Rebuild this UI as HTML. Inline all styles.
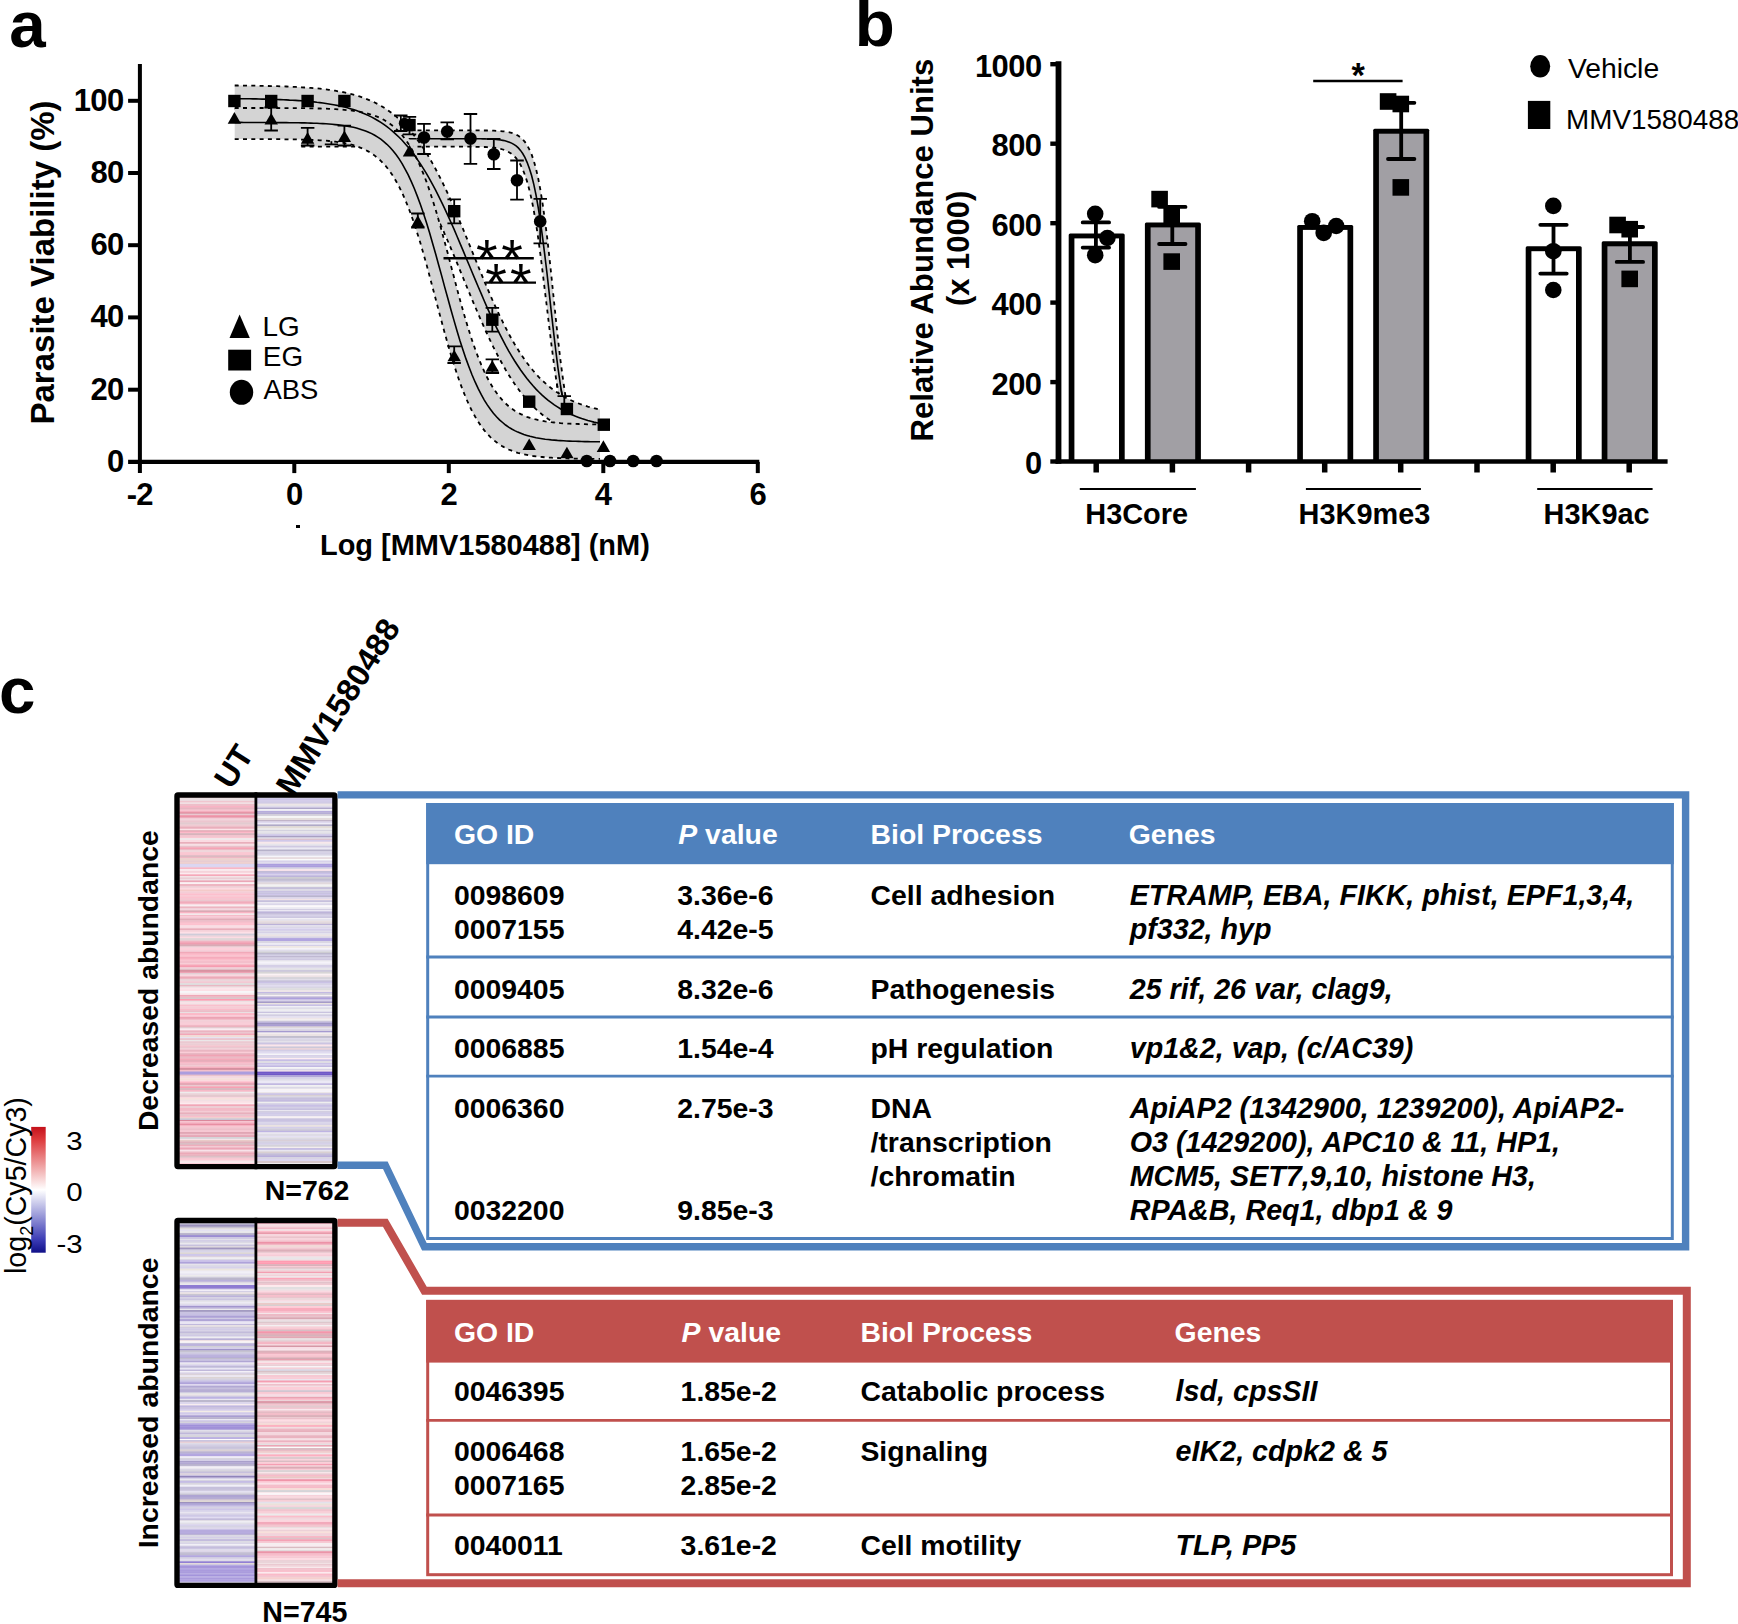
<!DOCTYPE html>
<html lang="en">
<head>
<meta charset="utf-8">
<title>MMV1580488 figure</title>
<style>
html,body{margin:0;padding:0;background:#fff;}
body{width:1738px;height:1624px;overflow:hidden;}
svg{display:block;font-family:"Liberation Sans",sans-serif;}
svg text{white-space:pre;}
</style>
</head>
<body>
<svg width="1738" height="1624" viewBox="0 0 1738 1624">
<rect x="0" y="0" width="1738" height="1624" fill="#fff"/>
<g id="panel-a">
<text x="9.3" y="46.8" font-size="65.5" font-weight="bold">a</text>
<defs><clipPath id="abc"><rect x="0" y="0" width="800" height="398.6"/></clipPath></defs>
<path d="M301.3 130.4 L303.5 130.4 L305.7 130.4 L307.9 130.4 L310.1 130.4 L312.3 130.4 L314.5 130.4 L316.8 130.4 L319 130.4 L321.2 130.4 L323.4 130.4 L325.6 130.4 L327.8 130.4 L330 130.4 L332.3 130.4 L334.5 130.4 L336.7 130.4 L338.9 130.4 L341.1 130.4 L343.3 130.4 L345.5 130.4 L347.8 130.4 L350 130.4 L352.2 130.4 L354.4 130.4 L356.6 130.4 L358.8 130.4 L361 130.4 L363.3 130.4 L365.5 130.4 L367.7 130.4 L369.9 130.4 L372.1 130.4 L374.3 130.4 L376.5 130.4 L378.8 130.4 L381 130.4 L383.2 130.4 L385.4 130.4 L387.6 130.4 L389.8 130.4 L392 130.4 L394.3 130.4 L396.5 130.4 L398.7 130.4 L400.9 130.4 L403.1 130.4 L405.3 130.4 L407.5 130.4 L409.8 130.4 L412 130.4 L414.2 130.4 L416.4 130.4 L418.6 130.4 L420.8 130.4 L423.1 130.4 L425.3 130.4 L427.5 130.4 L429.7 130.4 L431.9 130.4 L434.1 130.4 L436.3 130.4 L438.6 130.4 L440.8 130.4 L443 130.4 L445.2 130.4 L447.4 130.4 L449.6 130.4 L451.8 130.4 L454.1 130.4 L456.3 130.4 L458.5 130.4 L460.7 130.4 L462.9 130.4 L465.1 130.4 L467.3 130.4 L469.6 130.4 L471.8 130.4 L474 130.4 L476.2 130.4 L478.4 130.4 L480.6 130.4 L482.8 130.5 L485.1 130.5 L487.3 130.5 L489.5 130.6 L491.7 130.6 L493.9 130.7 L496.1 130.8 L498.3 130.9 L500.6 131.1 L502.8 131.3 L505 131.5 L507.2 131.9 L509.4 132.3 L511.6 132.9 L513.8 133.6 L516.1 134.6 L518.3 135.8 L520.5 137.4 L522.7 139.4 L524.9 141.9 L527.1 145.2 L529.3 149.3 L531.6 154.4 L533.8 160.9 L536 168.8 L538.2 178.4 L540.4 190 L542.6 203.6 L544.8 219.3 L547.1 237.1 L549.3 256.5 L551.5 277.1 L553.7 298.4 L555.9 319.5 L558.1 340 L560.3 359.1 L562.6 376.4 L564.8 391.7 L567 404.9 L567 430.4 L564.8 422.9 L562.6 414.1 L560.3 403.6 L558.1 391.5 L555.9 377.6 L553.7 362.2 L551.5 345.3 L549.3 327.4 L547.1 308.8 L544.8 290.1 L542.6 271.8 L540.4 254.4 L538.2 238.2 L536 223.6 L533.8 210.6 L531.6 199.3 L529.3 189.7 L527.1 181.6 L524.9 174.9 L522.7 169.3 L520.5 164.8 L518.3 161.1 L516.1 158.2 L513.8 155.8 L511.6 153.9 L509.4 152.4 L507.2 151.2 L505 150.2 L502.8 149.5 L500.6 148.9 L498.3 148.4 L496.1 148 L493.9 147.7 L491.7 147.5 L489.5 147.3 L487.3 147.2 L485.1 147 L482.8 147 L480.6 146.9 L478.4 146.8 L476.2 146.8 L474 146.7 L471.8 146.7 L469.6 146.7 L467.3 146.7 L465.1 146.7 L462.9 146.7 L460.7 146.6 L458.5 146.6 L456.3 146.6 L454.1 146.6 L451.8 146.6 L449.6 146.6 L447.4 146.6 L445.2 146.6 L443 146.6 L440.8 146.6 L438.6 146.6 L436.3 146.6 L434.1 146.6 L431.9 146.6 L429.7 146.6 L427.5 146.6 L425.3 146.6 L423.1 146.6 L420.8 146.6 L418.6 146.6 L416.4 146.6 L414.2 146.6 L412 146.6 L409.8 146.6 L407.5 146.6 L405.3 146.6 L403.1 146.6 L400.9 146.6 L398.7 146.6 L396.5 146.6 L394.3 146.6 L392 146.6 L389.8 146.6 L387.6 146.6 L385.4 146.6 L383.2 146.6 L381 146.6 L378.8 146.6 L376.5 146.6 L374.3 146.6 L372.1 146.6 L369.9 146.6 L367.7 146.6 L365.5 146.6 L363.3 146.6 L361 146.6 L358.8 146.6 L356.6 146.6 L354.4 146.6 L352.2 146.6 L350 146.6 L347.8 146.6 L345.5 146.6 L343.3 146.6 L341.1 146.6 L338.9 146.6 L336.7 146.6 L334.5 146.6 L332.3 146.6 L330 146.6 L327.8 146.6 L325.6 146.6 L323.4 146.6 L321.2 146.6 L319 146.6 L316.8 146.6 L314.5 146.6 L312.3 146.6 L310.1 146.6 L307.9 146.6 L305.7 146.6 L303.5 146.6 L301.3 146.6 Z" fill="#d4d4d4" clip-path="url(#abc)"/>
<path d="M301.3 130.4 L303.5 130.4 L305.7 130.4 L307.9 130.4 L310.1 130.4 L312.3 130.4 L314.5 130.4 L316.8 130.4 L319 130.4 L321.2 130.4 L323.4 130.4 L325.6 130.4 L327.8 130.4 L330 130.4 L332.3 130.4 L334.5 130.4 L336.7 130.4 L338.9 130.4 L341.1 130.4 L343.3 130.4 L345.5 130.4 L347.8 130.4 L350 130.4 L352.2 130.4 L354.4 130.4 L356.6 130.4 L358.8 130.4 L361 130.4 L363.3 130.4 L365.5 130.4 L367.7 130.4 L369.9 130.4 L372.1 130.4 L374.3 130.4 L376.5 130.4 L378.8 130.4 L381 130.4 L383.2 130.4 L385.4 130.4 L387.6 130.4 L389.8 130.4 L392 130.4 L394.3 130.4 L396.5 130.4 L398.7 130.4 L400.9 130.4 L403.1 130.4 L405.3 130.4 L407.5 130.4 L409.8 130.4 L412 130.4 L414.2 130.4 L416.4 130.4 L418.6 130.4 L420.8 130.4 L423.1 130.4 L425.3 130.4 L427.5 130.4 L429.7 130.4 L431.9 130.4 L434.1 130.4 L436.3 130.4 L438.6 130.4 L440.8 130.4 L443 130.4 L445.2 130.4 L447.4 130.4 L449.6 130.4 L451.8 130.4 L454.1 130.4 L456.3 130.4 L458.5 130.4 L460.7 130.4 L462.9 130.4 L465.1 130.4 L467.3 130.4 L469.6 130.4 L471.8 130.4 L474 130.4 L476.2 130.4 L478.4 130.4 L480.6 130.4 L482.8 130.5 L485.1 130.5 L487.3 130.5 L489.5 130.6 L491.7 130.6 L493.9 130.7 L496.1 130.8 L498.3 130.9 L500.6 131.1 L502.8 131.3 L505 131.5 L507.2 131.9 L509.4 132.3 L511.6 132.9 L513.8 133.6 L516.1 134.6 L518.3 135.8 L520.5 137.4 L522.7 139.4 L524.9 141.9 L527.1 145.2 L529.3 149.3 L531.6 154.4 L533.8 160.9 L536 168.8 L538.2 178.4 L540.4 190 L542.6 203.6 L544.8 219.3 L547.1 237.1 L549.3 256.5 L551.5 277.1 L553.7 298.4 L555.9 319.5 L558.1 340 L560.3 359.1 L562.6 376.4 L564.8 391.7 L567 404.9" fill="none" stroke="#000" stroke-width="1.8" stroke-dasharray="4 4.3" clip-path="url(#abc)"/>
<path d="M301.3 146.6 L303.5 146.6 L305.7 146.6 L307.9 146.6 L310.1 146.6 L312.3 146.6 L314.5 146.6 L316.8 146.6 L319 146.6 L321.2 146.6 L323.4 146.6 L325.6 146.6 L327.8 146.6 L330 146.6 L332.3 146.6 L334.5 146.6 L336.7 146.6 L338.9 146.6 L341.1 146.6 L343.3 146.6 L345.5 146.6 L347.8 146.6 L350 146.6 L352.2 146.6 L354.4 146.6 L356.6 146.6 L358.8 146.6 L361 146.6 L363.3 146.6 L365.5 146.6 L367.7 146.6 L369.9 146.6 L372.1 146.6 L374.3 146.6 L376.5 146.6 L378.8 146.6 L381 146.6 L383.2 146.6 L385.4 146.6 L387.6 146.6 L389.8 146.6 L392 146.6 L394.3 146.6 L396.5 146.6 L398.7 146.6 L400.9 146.6 L403.1 146.6 L405.3 146.6 L407.5 146.6 L409.8 146.6 L412 146.6 L414.2 146.6 L416.4 146.6 L418.6 146.6 L420.8 146.6 L423.1 146.6 L425.3 146.6 L427.5 146.6 L429.7 146.6 L431.9 146.6 L434.1 146.6 L436.3 146.6 L438.6 146.6 L440.8 146.6 L443 146.6 L445.2 146.6 L447.4 146.6 L449.6 146.6 L451.8 146.6 L454.1 146.6 L456.3 146.6 L458.5 146.6 L460.7 146.6 L462.9 146.7 L465.1 146.7 L467.3 146.7 L469.6 146.7 L471.8 146.7 L474 146.7 L476.2 146.8 L478.4 146.8 L480.6 146.9 L482.8 147 L485.1 147 L487.3 147.2 L489.5 147.3 L491.7 147.5 L493.9 147.7 L496.1 148 L498.3 148.4 L500.6 148.9 L502.8 149.5 L505 150.2 L507.2 151.2 L509.4 152.4 L511.6 153.9 L513.8 155.8 L516.1 158.2 L518.3 161.1 L520.5 164.8 L522.7 169.3 L524.9 174.9 L527.1 181.6 L529.3 189.7 L531.6 199.3 L533.8 210.6 L536 223.6 L538.2 238.2 L540.4 254.4 L542.6 271.8 L544.8 290.1 L547.1 308.8 L549.3 327.4 L551.5 345.3 L553.7 362.2 L555.9 377.6 L558.1 391.5 L560.3 403.6 L562.6 414.1 L564.8 422.9 L567 430.4" fill="none" stroke="#000" stroke-width="1.8" stroke-dasharray="4 4.3" clip-path="url(#abc)"/>
<path d="M301.3 138.7 L303.5 138.7 L305.7 138.7 L307.9 138.7 L310.1 138.7 L312.3 138.7 L314.5 138.7 L316.8 138.7 L319 138.7 L321.2 138.7 L323.4 138.7 L325.6 138.7 L327.8 138.7 L330 138.7 L332.3 138.7 L334.5 138.7 L336.7 138.7 L338.9 138.7 L341.1 138.7 L343.3 138.7 L345.5 138.7 L347.8 138.7 L350 138.7 L352.2 138.7 L354.4 138.7 L356.6 138.7 L358.8 138.7 L361 138.7 L363.3 138.7 L365.5 138.7 L367.7 138.7 L369.9 138.7 L372.1 138.7 L374.3 138.7 L376.5 138.7 L378.8 138.7 L381 138.7 L383.2 138.7 L385.4 138.7 L387.6 138.7 L389.8 138.7 L392 138.7 L394.3 138.7 L396.5 138.7 L398.7 138.7 L400.9 138.7 L403.1 138.7 L405.3 138.7 L407.5 138.7 L409.8 138.7 L412 138.7 L414.2 138.7 L416.4 138.7 L418.6 138.7 L420.8 138.7 L423.1 138.7 L425.3 138.7 L427.5 138.7 L429.7 138.7 L431.9 138.7 L434.1 138.7 L436.3 138.7 L438.6 138.7 L440.8 138.7 L443 138.7 L445.2 138.7 L447.4 138.7 L449.6 138.7 L451.8 138.7 L454.1 138.7 L456.3 138.7 L458.5 138.7 L460.7 138.7 L462.9 138.7 L465.1 138.7 L467.3 138.7 L469.6 138.7 L471.8 138.7 L474 138.7 L476.2 138.8 L478.4 138.8 L480.6 138.8 L482.8 138.9 L485.1 138.9 L487.3 139 L489.5 139.1 L491.7 139.2 L493.9 139.3 L496.1 139.5 L498.3 139.7 L500.6 140 L502.8 140.4 L505 140.8 L507.2 141.4 L509.4 142.2 L511.6 143.1 L513.8 144.4 L516.1 145.9 L518.3 147.9 L520.5 150.4 L522.7 153.5 L524.9 157.4 L527.1 162.3 L529.3 168.2 L531.6 175.5 L533.8 184.4 L536 194.9 L538.2 207.3 L540.4 221.5 L542.6 237.6 L544.8 255.2 L547.1 274.1 L549.3 293.8 L551.5 313.7 L553.7 333.1 L555.9 351.7 L558.1 368.8 L560.3 384.2 L562.6 397.8 L564.8 409.5 L567 419.5" fill="none" stroke="#000" stroke-width="1.6" clip-path="url(#abc)"/>
<path d="M331.4 136 V144.3 M324.8 144.3 H338" stroke="#000" stroke-width="1.8" fill="none"/>
<path d="M234.7 85.5 L237.7 85.5 L240.8 85.6 L243.8 85.6 L246.8 85.6 L249.9 85.7 L252.9 85.7 L256 85.7 L259 85.8 L262.1 85.9 L265.1 85.9 L268.2 86 L271.2 86.1 L274.2 86.1 L277.3 86.2 L280.3 86.3 L283.4 86.4 L286.4 86.5 L289.5 86.7 L292.5 86.8 L295.5 86.9 L298.6 87.1 L301.6 87.3 L304.7 87.5 L307.7 87.7 L310.8 87.9 L313.8 88.2 L316.9 88.4 L319.9 88.7 L322.9 89.1 L326 89.4 L329 89.8 L332.1 90.3 L335.1 90.7 L338.2 91.3 L341.2 91.8 L344.3 92.4 L347.3 93.1 L350.3 93.8 L353.4 94.6 L356.4 95.5 L359.5 96.4 L362.5 97.4 L365.6 98.6 L368.6 99.8 L371.7 101.1 L374.7 102.5 L377.7 104.1 L380.8 105.7 L383.8 107.6 L386.9 109.5 L389.9 111.7 L393 114 L396 116.4 L399.1 119.1 L402.1 121.9 L405.1 125 L408.2 128.3 L411.2 131.8 L414.3 135.6 L417.3 139.6 L420.4 143.8 L423.4 148.3 L426.5 153.1 L429.5 158.1 L432.5 163.4 L435.6 169 L438.6 174.8 L441.7 180.8 L444.7 187.1 L447.8 193.6 L450.8 200.4 L453.9 207.3 L456.9 214.4 L459.9 221.6 L463 228.9 L466 236.3 L469.1 243.8 L472.1 251.3 L475.2 258.9 L478.2 266.3 L481.3 273.8 L484.3 281.1 L487.3 288.3 L490.4 295.4 L493.4 302.3 L496.5 309 L499.5 315.5 L502.6 321.7 L505.6 327.7 L508.6 333.5 L511.7 339.1 L514.7 344.3 L517.8 349.3 L520.8 354.1 L523.9 358.6 L526.9 362.8 L530 366.8 L533 370.5 L536 374 L539.1 377.3 L542.1 380.3 L545.2 383.1 L548.2 385.8 L551.3 388.2 L554.3 390.5 L557.4 392.6 L560.4 394.6 L563.4 396.4 L566.5 398.1 L569.5 399.6 L572.6 401 L575.6 402.3 L578.7 403.5 L581.7 404.6 L584.8 405.6 L587.8 406.6 L590.8 407.4 L593.9 408.2 L596.9 408.9 L600 409.6 L600 439 L596.9 438.5 L593.9 437.9 L590.8 437.2 L587.8 436.5 L584.8 435.7 L581.7 434.8 L578.7 433.9 L575.6 432.9 L572.6 431.8 L569.5 430.6 L566.5 429.3 L563.4 427.9 L560.4 426.4 L557.4 424.8 L554.3 423 L551.3 421.1 L548.2 419.1 L545.2 416.9 L542.1 414.5 L539.1 411.9 L536 409.2 L533 406.3 L530 403.1 L526.9 399.8 L523.9 396.2 L520.8 392.4 L517.8 388.3 L514.7 384 L511.7 379.5 L508.6 374.7 L505.6 369.7 L502.6 364.4 L499.5 358.9 L496.5 353.1 L493.4 347.1 L490.4 340.8 L487.3 334.4 L484.3 327.8 L481.3 320.9 L478.2 313.9 L475.2 306.8 L472.1 299.6 L469.1 292.3 L466 284.9 L463 277.5 L459.9 270.1 L456.9 262.7 L453.9 255.4 L450.8 248.1 L447.8 241 L444.7 234 L441.7 227.1 L438.6 220.4 L435.6 213.9 L432.5 207.7 L429.5 201.6 L426.5 195.8 L423.4 190.2 L420.4 184.9 L417.3 179.8 L414.3 175 L411.2 170.4 L408.2 166.1 L405.1 162 L402.1 158.1 L399.1 154.5 L396 151.1 L393 147.9 L389.9 145 L386.9 142.2 L383.8 139.6 L380.8 137.2 L377.7 134.9 L374.7 132.9 L371.7 130.9 L368.6 129.1 L365.6 127.5 L362.5 126 L359.5 124.6 L356.4 123.2 L353.4 122 L350.3 120.9 L347.3 119.9 L344.3 119 L341.2 118.1 L338.2 117.3 L335.1 116.6 L332.1 115.9 L329 115.3 L326 114.7 L322.9 114.2 L319.9 113.7 L316.9 113.2 L313.8 112.8 L310.8 112.4 L307.7 112.1 L304.7 111.8 L301.6 111.5 L298.6 111.2 L295.5 111 L292.5 110.8 L289.5 110.6 L286.4 110.4 L283.4 110.2 L280.3 110.1 L277.3 109.9 L274.2 109.8 L271.2 109.7 L268.2 109.5 L265.1 109.4 L262.1 109.4 L259 109.3 L256 109.2 L252.9 109.1 L249.9 109 L246.8 109 L243.8 108.9 L240.8 108.9 L237.7 108.8 L234.7 108.8 Z" fill="#d4d4d4"/>
<path d="M234.7 85.5 L237.7 85.5 L240.8 85.6 L243.8 85.6 L246.8 85.6 L249.9 85.7 L252.9 85.7 L256 85.7 L259 85.8 L262.1 85.9 L265.1 85.9 L268.2 86 L271.2 86.1 L274.2 86.1 L277.3 86.2 L280.3 86.3 L283.4 86.4 L286.4 86.5 L289.5 86.7 L292.5 86.8 L295.5 86.9 L298.6 87.1 L301.6 87.3 L304.7 87.5 L307.7 87.7 L310.8 87.9 L313.8 88.2 L316.9 88.4 L319.9 88.7 L322.9 89.1 L326 89.4 L329 89.8 L332.1 90.3 L335.1 90.7 L338.2 91.3 L341.2 91.8 L344.3 92.4 L347.3 93.1 L350.3 93.8 L353.4 94.6 L356.4 95.5 L359.5 96.4 L362.5 97.4 L365.6 98.6 L368.6 99.8 L371.7 101.1 L374.7 102.5 L377.7 104.1 L380.8 105.7 L383.8 107.6 L386.9 109.5 L389.9 111.7 L393 114 L396 116.4 L399.1 119.1 L402.1 121.9 L405.1 125 L408.2 128.3 L411.2 131.8 L414.3 135.6 L417.3 139.6 L420.4 143.8 L423.4 148.3 L426.5 153.1 L429.5 158.1 L432.5 163.4 L435.6 169 L438.6 174.8 L441.7 180.8 L444.7 187.1 L447.8 193.6 L450.8 200.4 L453.9 207.3 L456.9 214.4 L459.9 221.6 L463 228.9 L466 236.3 L469.1 243.8 L472.1 251.3 L475.2 258.9 L478.2 266.3 L481.3 273.8 L484.3 281.1 L487.3 288.3 L490.4 295.4 L493.4 302.3 L496.5 309 L499.5 315.5 L502.6 321.7 L505.6 327.7 L508.6 333.5 L511.7 339.1 L514.7 344.3 L517.8 349.3 L520.8 354.1 L523.9 358.6 L526.9 362.8 L530 366.8 L533 370.5 L536 374 L539.1 377.3 L542.1 380.3 L545.2 383.1 L548.2 385.8 L551.3 388.2 L554.3 390.5 L557.4 392.6 L560.4 394.6 L563.4 396.4 L566.5 398.1 L569.5 399.6 L572.6 401 L575.6 402.3 L578.7 403.5 L581.7 404.6 L584.8 405.6 L587.8 406.6 L590.8 407.4 L593.9 408.2 L596.9 408.9 L600 409.6" fill="none" stroke="#000" stroke-width="1.8" stroke-dasharray="4 4.3"/>
<path d="M234.7 108.8 L237.7 108.8 L240.8 108.9 L243.8 108.9 L246.8 109 L249.9 109 L252.9 109.1 L256 109.2 L259 109.3 L262.1 109.4 L265.1 109.4 L268.2 109.5 L271.2 109.7 L274.2 109.8 L277.3 109.9 L280.3 110.1 L283.4 110.2 L286.4 110.4 L289.5 110.6 L292.5 110.8 L295.5 111 L298.6 111.2 L301.6 111.5 L304.7 111.8 L307.7 112.1 L310.8 112.4 L313.8 112.8 L316.9 113.2 L319.9 113.7 L322.9 114.2 L326 114.7 L329 115.3 L332.1 115.9 L335.1 116.6 L338.2 117.3 L341.2 118.1 L344.3 119 L347.3 119.9 L350.3 120.9 L353.4 122 L356.4 123.2 L359.5 124.6 L362.5 126 L365.6 127.5 L368.6 129.1 L371.7 130.9 L374.7 132.9 L377.7 134.9 L380.8 137.2 L383.8 139.6 L386.9 142.2 L389.9 145 L393 147.9 L396 151.1 L399.1 154.5 L402.1 158.1 L405.1 162 L408.2 166.1 L411.2 170.4 L414.3 175 L417.3 179.8 L420.4 184.9 L423.4 190.2 L426.5 195.8 L429.5 201.6 L432.5 207.7 L435.6 213.9 L438.6 220.4 L441.7 227.1 L444.7 234 L447.8 241 L450.8 248.1 L453.9 255.4 L456.9 262.7 L459.9 270.1 L463 277.5 L466 284.9 L469.1 292.3 L472.1 299.6 L475.2 306.8 L478.2 313.9 L481.3 320.9 L484.3 327.8 L487.3 334.4 L490.4 340.8 L493.4 347.1 L496.5 353.1 L499.5 358.9 L502.6 364.4 L505.6 369.7 L508.6 374.7 L511.7 379.5 L514.7 384 L517.8 388.3 L520.8 392.4 L523.9 396.2 L526.9 399.8 L530 403.1 L533 406.3 L536 409.2 L539.1 411.9 L542.1 414.5 L545.2 416.9 L548.2 419.1 L551.3 421.1 L554.3 423 L557.4 424.8 L560.4 426.4 L563.4 427.9 L566.5 429.3 L569.5 430.6 L572.6 431.8 L575.6 432.9 L578.7 433.9 L581.7 434.8 L584.8 435.7 L587.8 436.5 L590.8 437.2 L593.9 437.9 L596.9 438.5 L600 439" fill="none" stroke="#000" stroke-width="1.8" stroke-dasharray="4 4.3"/>
<path d="M234.7 108 L237.7 108 L240.8 108 L243.8 108 L246.8 108 L249.9 108 L252.9 108 L256 108 L259 108 L262.1 108 L265.1 108 L268.2 108 L271.2 108 L274.2 108 L277.3 108 L280.3 108.1 L283.4 108.1 L286.4 108.1 L289.5 108.1 L292.5 108.1 L295.5 108.1 L298.6 108.2 L301.6 108.2 L304.7 108.2 L307.7 108.3 L310.8 108.3 L313.8 108.4 L316.9 108.5 L319.9 108.5 L322.9 108.6 L326 108.7 L329 108.8 L332.1 109 L335.1 109.1 L338.2 109.3 L341.2 109.5 L344.3 109.8 L347.3 110.1 L350.3 110.4 L353.4 110.8 L356.4 111.2 L359.5 111.7 L362.5 112.3 L365.6 113 L368.6 113.8 L371.7 114.7 L374.7 115.7 L377.7 116.9 L380.8 118.2 L383.8 119.8 L386.9 121.6 L389.9 123.7 L393 126 L396 128.7 L399.1 131.7 L402.1 135.1 L405.1 139 L408.2 143.4 L411.2 148.3 L414.3 153.7 L417.3 159.8 L420.4 166.5 L423.4 173.8 L426.5 181.8 L429.5 190.4 L432.5 199.7 L435.6 209.6 L438.6 220 L441.7 230.8 L444.7 242.1 L447.8 253.5 L450.8 265.2 L453.9 276.8 L456.9 288.3 L459.9 299.6 L463 310.5 L466 321 L469.1 331 L472.1 340.4 L475.2 349.2 L478.2 357.3 L481.3 364.8 L484.3 371.6 L487.3 377.8 L490.4 383.4 L493.4 388.4 L496.5 392.8 L499.5 396.8 L502.6 400.3 L505.6 403.4 L508.6 406.2 L511.7 408.6 L514.7 410.7 L517.8 412.5 L520.8 414.1 L523.9 415.5 L526.9 416.8 L530 417.8 L533 418.7 L536 419.5 L539.1 420.2 L542.1 420.8 L545.2 421.4 L548.2 421.8 L551.3 422.2 L554.3 422.5 L557.4 422.8 L560.4 423.1 L563.4 423.3 L566.5 423.5 L569.5 423.7 L572.6 423.8 L575.6 423.9 L578.7 424 L581.7 424.1 L584.8 424.2 L587.8 424.3 L590.8 424.3 L593.9 424.4 L596.9 424.4 L600 424.5 L600 458.9 L596.9 458.9 L593.9 458.8 L590.8 458.8 L587.8 458.8 L584.8 458.7 L581.7 458.7 L578.7 458.7 L575.6 458.6 L572.6 458.5 L569.5 458.5 L566.5 458.4 L563.4 458.3 L560.4 458.2 L557.4 458 L554.3 457.9 L551.3 457.7 L548.2 457.5 L545.2 457.3 L542.1 457 L539.1 456.7 L536 456.4 L533 456 L530 455.5 L526.9 454.9 L523.9 454.3 L520.8 453.6 L517.8 452.8 L514.7 451.8 L511.7 450.7 L508.6 449.5 L505.6 448 L502.6 446.4 L499.5 444.5 L496.5 442.3 L493.4 439.9 L490.4 437.1 L487.3 433.9 L484.3 430.4 L481.3 426.3 L478.2 421.8 L475.2 416.8 L472.1 411.2 L469.1 405 L466 398.1 L463 390.6 L459.9 382.5 L456.9 373.7 L453.9 364.4 L450.8 354.4 L447.8 343.9 L444.7 333 L441.7 321.8 L438.6 310.3 L435.6 298.7 L432.5 287.1 L429.5 275.7 L426.5 264.4 L423.4 253.5 L420.4 243.1 L417.3 233.2 L414.3 223.8 L411.2 215.1 L408.2 207 L405.1 199.5 L402.1 192.7 L399.1 186.6 L396 181 L393 176 L389.9 171.5 L386.9 167.5 L383.8 163.9 L380.8 160.8 L377.7 158 L374.7 155.6 L371.7 153.5 L368.6 151.6 L365.6 149.9 L362.5 148.5 L359.5 147.3 L356.4 146.2 L353.4 145.2 L350.3 144.4 L347.3 143.7 L344.3 143.1 L341.2 142.5 L338.2 142.1 L335.1 141.7 L332.1 141.3 L329 141 L326 140.7 L322.9 140.5 L319.9 140.3 L316.9 140.1 L313.8 140 L310.8 139.9 L307.7 139.7 L304.7 139.7 L301.6 139.6 L298.6 139.5 L295.5 139.4 L292.5 139.4 L289.5 139.3 L286.4 139.3 L283.4 139.3 L280.3 139.2 L277.3 139.2 L274.2 139.2 L271.2 139.2 L268.2 139.1 L265.1 139.1 L262.1 139.1 L259 139.1 L256 139.1 L252.9 139.1 L249.9 139.1 L246.8 139.1 L243.8 139.1 L240.8 139.1 L237.7 139.1 L234.7 139.1 Z" fill="#d4d4d4"/>
<path d="M234.7 108 L237.7 108 L240.8 108 L243.8 108 L246.8 108 L249.9 108 L252.9 108 L256 108 L259 108 L262.1 108 L265.1 108 L268.2 108 L271.2 108 L274.2 108 L277.3 108 L280.3 108.1 L283.4 108.1 L286.4 108.1 L289.5 108.1 L292.5 108.1 L295.5 108.1 L298.6 108.2 L301.6 108.2 L304.7 108.2 L307.7 108.3 L310.8 108.3 L313.8 108.4 L316.9 108.5 L319.9 108.5 L322.9 108.6 L326 108.7 L329 108.8 L332.1 109 L335.1 109.1 L338.2 109.3 L341.2 109.5 L344.3 109.8 L347.3 110.1 L350.3 110.4 L353.4 110.8 L356.4 111.2 L359.5 111.7 L362.5 112.3 L365.6 113 L368.6 113.8 L371.7 114.7 L374.7 115.7 L377.7 116.9 L380.8 118.2 L383.8 119.8 L386.9 121.6 L389.9 123.7 L393 126 L396 128.7 L399.1 131.7 L402.1 135.1 L405.1 139 L408.2 143.4 L411.2 148.3 L414.3 153.7 L417.3 159.8 L420.4 166.5 L423.4 173.8 L426.5 181.8 L429.5 190.4 L432.5 199.7 L435.6 209.6 L438.6 220 L441.7 230.8 L444.7 242.1 L447.8 253.5 L450.8 265.2 L453.9 276.8 L456.9 288.3 L459.9 299.6 L463 310.5 L466 321 L469.1 331 L472.1 340.4 L475.2 349.2 L478.2 357.3 L481.3 364.8 L484.3 371.6 L487.3 377.8 L490.4 383.4 L493.4 388.4 L496.5 392.8 L499.5 396.8 L502.6 400.3 L505.6 403.4 L508.6 406.2 L511.7 408.6 L514.7 410.7 L517.8 412.5 L520.8 414.1 L523.9 415.5 L526.9 416.8 L530 417.8 L533 418.7 L536 419.5 L539.1 420.2 L542.1 420.8 L545.2 421.4 L548.2 421.8 L551.3 422.2 L554.3 422.5 L557.4 422.8 L560.4 423.1 L563.4 423.3 L566.5 423.5 L569.5 423.7 L572.6 423.8 L575.6 423.9 L578.7 424 L581.7 424.1 L584.8 424.2 L587.8 424.3 L590.8 424.3 L593.9 424.4 L596.9 424.4 L600 424.5" fill="none" stroke="#000" stroke-width="1.8" stroke-dasharray="4 4.3"/>
<path d="M234.7 139.1 L237.7 139.1 L240.8 139.1 L243.8 139.1 L246.8 139.1 L249.9 139.1 L252.9 139.1 L256 139.1 L259 139.1 L262.1 139.1 L265.1 139.1 L268.2 139.1 L271.2 139.2 L274.2 139.2 L277.3 139.2 L280.3 139.2 L283.4 139.3 L286.4 139.3 L289.5 139.3 L292.5 139.4 L295.5 139.4 L298.6 139.5 L301.6 139.6 L304.7 139.7 L307.7 139.7 L310.8 139.9 L313.8 140 L316.9 140.1 L319.9 140.3 L322.9 140.5 L326 140.7 L329 141 L332.1 141.3 L335.1 141.7 L338.2 142.1 L341.2 142.5 L344.3 143.1 L347.3 143.7 L350.3 144.4 L353.4 145.2 L356.4 146.2 L359.5 147.3 L362.5 148.5 L365.6 149.9 L368.6 151.6 L371.7 153.5 L374.7 155.6 L377.7 158 L380.8 160.8 L383.8 163.9 L386.9 167.5 L389.9 171.5 L393 176 L396 181 L399.1 186.6 L402.1 192.7 L405.1 199.5 L408.2 207 L411.2 215.1 L414.3 223.8 L417.3 233.2 L420.4 243.1 L423.4 253.5 L426.5 264.4 L429.5 275.7 L432.5 287.1 L435.6 298.7 L438.6 310.3 L441.7 321.8 L444.7 333 L447.8 343.9 L450.8 354.4 L453.9 364.4 L456.9 373.7 L459.9 382.5 L463 390.6 L466 398.1 L469.1 405 L472.1 411.2 L475.2 416.8 L478.2 421.8 L481.3 426.3 L484.3 430.4 L487.3 433.9 L490.4 437.1 L493.4 439.9 L496.5 442.3 L499.5 444.5 L502.6 446.4 L505.6 448 L508.6 449.5 L511.7 450.7 L514.7 451.8 L517.8 452.8 L520.8 453.6 L523.9 454.3 L526.9 454.9 L530 455.5 L533 456 L536 456.4 L539.1 456.7 L542.1 457 L545.2 457.3 L548.2 457.5 L551.3 457.7 L554.3 457.9 L557.4 458 L560.4 458.2 L563.4 458.3 L566.5 458.4 L569.5 458.5 L572.6 458.5 L575.6 458.6 L578.7 458.7 L581.7 458.7 L584.8 458.7 L587.8 458.8 L590.8 458.8 L593.9 458.8 L596.9 458.9 L600 458.9" fill="none" stroke="#000" stroke-width="1.8" stroke-dasharray="4 4.3"/>
<path d="M234.7 98.6 L237.7 98.6 L240.8 98.7 L243.8 98.7 L246.8 98.8 L249.9 98.8 L252.9 98.9 L256 98.9 L259 99 L262.1 99.1 L265.1 99.1 L268.2 99.2 L271.2 99.3 L274.2 99.4 L277.3 99.5 L280.3 99.6 L283.4 99.8 L286.4 99.9 L289.5 100.1 L292.5 100.2 L295.5 100.4 L298.6 100.6 L301.6 100.8 L304.7 101.1 L307.7 101.3 L310.8 101.6 L313.8 101.9 L316.9 102.3 L319.9 102.6 L322.9 103 L326 103.5 L329 104 L332.1 104.5 L335.1 105 L338.2 105.6 L341.2 106.3 L344.3 107 L347.3 107.8 L350.3 108.7 L353.4 109.6 L356.4 110.6 L359.5 111.7 L362.5 112.9 L365.6 114.2 L368.6 115.6 L371.7 117.1 L374.7 118.7 L377.7 120.5 L380.8 122.4 L383.8 124.4 L386.9 126.6 L389.9 129 L393 131.6 L396 134.3 L399.1 137.2 L402.1 140.3 L405.1 143.7 L408.2 147.3 L411.2 151.1 L414.3 155.1 L417.3 159.4 L420.4 163.9 L423.4 168.6 L426.5 173.6 L429.5 178.9 L432.5 184.4 L435.6 190.1 L438.6 196.1 L441.7 202.3 L444.7 208.7 L447.8 215.3 L450.8 222 L453.9 228.9 L456.9 236 L459.9 243.1 L463 250.4 L466 257.7 L469.1 265 L472.1 272.3 L475.2 279.6 L478.2 286.8 L481.3 293.9 L484.3 301 L487.3 307.9 L490.4 314.6 L493.4 321.2 L496.5 327.6 L499.5 333.7 L502.6 339.7 L505.6 345.4 L508.6 350.8 L511.7 356.1 L514.7 361 L517.8 365.8 L520.8 370.3 L523.9 374.5 L526.9 378.5 L530 382.3 L533 385.8 L536 389.1 L539.1 392.2 L542.1 395.1 L545.2 397.8 L548.2 400.4 L551.3 402.7 L554.3 404.9 L557.4 406.9 L560.4 408.8 L563.4 410.6 L566.5 412.2 L569.5 413.7 L572.6 415 L575.6 416.3 L578.7 417.5 L581.7 418.6 L584.8 419.6 L587.8 420.5 L590.8 421.3 L593.9 422.1 L596.9 422.8 L600 423.5" fill="none" stroke="#000" stroke-width="1.6"/>
<path d="M234.7 122.4 L237.7 122.4 L240.8 122.4 L243.8 122.5 L246.8 122.5 L249.9 122.5 L252.9 122.5 L256 122.5 L259 122.5 L262.1 122.5 L265.1 122.5 L268.2 122.5 L271.2 122.5 L274.2 122.5 L277.3 122.6 L280.3 122.6 L283.4 122.6 L286.4 122.6 L289.5 122.7 L292.5 122.7 L295.5 122.8 L298.6 122.8 L301.6 122.9 L304.7 122.9 L307.7 123 L310.8 123.1 L313.8 123.2 L316.9 123.3 L319.9 123.5 L322.9 123.6 L326 123.8 L329 124 L332.1 124.3 L335.1 124.6 L338.2 124.9 L341.2 125.2 L344.3 125.7 L347.3 126.1 L350.3 126.7 L353.4 127.3 L356.4 128.1 L359.5 128.9 L362.5 129.9 L365.6 131 L368.6 132.2 L371.7 133.6 L374.7 135.3 L377.7 137.1 L380.8 139.2 L383.8 141.6 L386.9 144.3 L389.9 147.3 L393 150.8 L396 154.6 L399.1 158.9 L402.1 163.7 L405.1 169.1 L408.2 174.9 L411.2 181.4 L414.3 188.5 L417.3 196.1 L420.4 204.4 L423.4 213.3 L426.5 222.7 L429.5 232.6 L432.5 243 L435.6 253.7 L438.6 264.7 L441.7 275.9 L444.7 287.1 L447.8 298.3 L450.8 309.3 L453.9 320.1 L456.9 330.5 L459.9 340.5 L463 350 L466 358.9 L469.1 367.3 L472.1 375 L475.2 382.2 L478.2 388.7 L481.3 394.7 L484.3 400.1 L487.3 404.9 L490.4 409.3 L493.4 413.2 L496.5 416.7 L499.5 419.8 L502.6 422.5 L505.6 425 L508.6 427.1 L511.7 429 L514.7 430.6 L517.8 432.1 L520.8 433.3 L523.9 434.5 L526.9 435.4 L530 436.3 L533 437 L536 437.7 L539.1 438.2 L542.1 438.7 L545.2 439.2 L548.2 439.5 L551.3 439.9 L554.3 440.1 L557.4 440.4 L560.4 440.6 L563.4 440.8 L566.5 441 L569.5 441.1 L572.6 441.2 L575.6 441.3 L578.7 441.4 L581.7 441.5 L584.8 441.6 L587.8 441.6 L590.8 441.7 L593.9 441.7 L596.9 441.8 L600 441.8" fill="none" stroke="#000" stroke-width="1.6"/>
<defs><clipPath id="abr"><path d="M394.7 115.4 L396.2 116.6 L397.6 117.8 L399 119.1 L400.5 120.4 L401.9 121.8 L403.3 123.2 L404.8 124.6 L406.2 126.1 L407.6 127.7 L409.1 129.3 L410.5 131 L412 132.7 L413.4 134.5 L414.8 136.3 L416.3 138.2 L417.7 140.1 L419.1 142.1 L420.6 144.1 L422 146.2 L423.4 148.4 L424.9 150.6 L426.3 152.9 L427.7 155.2 L429.2 157.6 L430.6 160 L432 162.6 L433.5 165.1 L434.9 167.7 L436.4 170.4 L437.8 173.2 L439.2 176 L440.7 178.8 L442.1 181.7 L443.5 184.7 L445 187.7 L446.4 190.7 L447.8 193.8 L449.3 197 L450.7 200.1 L452.1 203.4 L453.6 206.7 L455 210 L456.5 213.3 L457.9 216.7 L459.3 220.1 L460.8 223.5 L462.2 227 L463.6 230.5 L465.1 234 L466.5 237.5 L467.9 241 L469.4 244.6 L470.8 248.1 L472.2 251.7 L473.7 255.2 L475.1 258.7 L476.6 262.3 L478 265.8 L479.4 269.3 L480.9 272.8 L482.3 276.3 L483.7 279.7 L485.2 283.2 L486.6 286.6 L488 289.9 L489.5 293.3 L490.9 296.6 L492.3 299.8 L493.8 303 L495.2 306.2 L496.6 309.3 L498.1 312.4 L499.5 315.5 L501 318.4 L502.4 321.4 L503.8 324.3 L505.3 327.1 L506.7 329.9 L508.1 332.6 L509.6 335.2 L511 337.8 L512.4 340.4 L513.9 342.9 L515.3 345.3 L516.7 347.7 L518.2 350 L519.6 352.2 L521.1 354.4 L522.5 356.6 L523.9 358.6 L525.4 360.7 L526.8 362.6 L528.2 364.5 L529.7 366.4 L531.1 368.2 L532.5 369.9 L534 371.6 L535.4 373.3 L536.8 374.9 L538.3 376.4 L539.7 377.9 L541.2 379.3 L542.6 380.7 L544 382.1 L545.5 383.4 L546.9 384.7 L548.3 385.9 L549.8 387.1 L551.2 388.2 L552.6 389.3 L554.1 390.3 L555.5 391.4 L556.9 392.4 L558.4 393.3 L559.8 394.2 L561.3 395.1 L562.7 396 L564.1 396.8 L565.6 397.6 L567 398.3 L760 60 L760 398.6 L567 398.6 Z"/></clipPath></defs>
<path d="M301.3 130.4 L303.5 130.4 L305.7 130.4 L307.9 130.4 L310.1 130.4 L312.3 130.4 L314.5 130.4 L316.8 130.4 L319 130.4 L321.2 130.4 L323.4 130.4 L325.6 130.4 L327.8 130.4 L330 130.4 L332.3 130.4 L334.5 130.4 L336.7 130.4 L338.9 130.4 L341.1 130.4 L343.3 130.4 L345.5 130.4 L347.8 130.4 L350 130.4 L352.2 130.4 L354.4 130.4 L356.6 130.4 L358.8 130.4 L361 130.4 L363.3 130.4 L365.5 130.4 L367.7 130.4 L369.9 130.4 L372.1 130.4 L374.3 130.4 L376.5 130.4 L378.8 130.4 L381 130.4 L383.2 130.4 L385.4 130.4 L387.6 130.4 L389.8 130.4 L392 130.4 L394.3 130.4 L396.5 130.4 L398.7 130.4 L400.9 130.4 L403.1 130.4 L405.3 130.4 L407.5 130.4 L409.8 130.4 L412 130.4 L414.2 130.4 L416.4 130.4 L418.6 130.4 L420.8 130.4 L423.1 130.4 L425.3 130.4 L427.5 130.4 L429.7 130.4 L431.9 130.4 L434.1 130.4 L436.3 130.4 L438.6 130.4 L440.8 130.4 L443 130.4 L445.2 130.4 L447.4 130.4 L449.6 130.4 L451.8 130.4 L454.1 130.4 L456.3 130.4 L458.5 130.4 L460.7 130.4 L462.9 130.4 L465.1 130.4 L467.3 130.4 L469.6 130.4 L471.8 130.4 L474 130.4 L476.2 130.4 L478.4 130.4 L480.6 130.4 L482.8 130.5 L485.1 130.5 L487.3 130.5 L489.5 130.6 L491.7 130.6 L493.9 130.7 L496.1 130.8 L498.3 130.9 L500.6 131.1 L502.8 131.3 L505 131.5 L507.2 131.9 L509.4 132.3 L511.6 132.9 L513.8 133.6 L516.1 134.6 L518.3 135.8 L520.5 137.4 L522.7 139.4 L524.9 141.9 L527.1 145.2 L529.3 149.3 L531.6 154.4 L533.8 160.9 L536 168.8 L538.2 178.4 L540.4 190 L542.6 203.6 L544.8 219.3 L547.1 237.1 L549.3 256.5 L551.5 277.1 L553.7 298.4 L555.9 319.5 L558.1 340 L560.3 359.1 L562.6 376.4 L564.8 391.7 L567 404.9" fill="none" stroke="#000" stroke-width="1.8" stroke-dasharray="4 4.3" clip-path="url(#abr)"/>
<path d="M301.3 146.6 L303.5 146.6 L305.7 146.6 L307.9 146.6 L310.1 146.6 L312.3 146.6 L314.5 146.6 L316.8 146.6 L319 146.6 L321.2 146.6 L323.4 146.6 L325.6 146.6 L327.8 146.6 L330 146.6 L332.3 146.6 L334.5 146.6 L336.7 146.6 L338.9 146.6 L341.1 146.6 L343.3 146.6 L345.5 146.6 L347.8 146.6 L350 146.6 L352.2 146.6 L354.4 146.6 L356.6 146.6 L358.8 146.6 L361 146.6 L363.3 146.6 L365.5 146.6 L367.7 146.6 L369.9 146.6 L372.1 146.6 L374.3 146.6 L376.5 146.6 L378.8 146.6 L381 146.6 L383.2 146.6 L385.4 146.6 L387.6 146.6 L389.8 146.6 L392 146.6 L394.3 146.6 L396.5 146.6 L398.7 146.6 L400.9 146.6 L403.1 146.6 L405.3 146.6 L407.5 146.6 L409.8 146.6 L412 146.6 L414.2 146.6 L416.4 146.6 L418.6 146.6 L420.8 146.6 L423.1 146.6 L425.3 146.6 L427.5 146.6 L429.7 146.6 L431.9 146.6 L434.1 146.6 L436.3 146.6 L438.6 146.6 L440.8 146.6 L443 146.6 L445.2 146.6 L447.4 146.6 L449.6 146.6 L451.8 146.6 L454.1 146.6 L456.3 146.6 L458.5 146.6 L460.7 146.6 L462.9 146.7 L465.1 146.7 L467.3 146.7 L469.6 146.7 L471.8 146.7 L474 146.7 L476.2 146.8 L478.4 146.8 L480.6 146.9 L482.8 147 L485.1 147 L487.3 147.2 L489.5 147.3 L491.7 147.5 L493.9 147.7 L496.1 148 L498.3 148.4 L500.6 148.9 L502.8 149.5 L505 150.2 L507.2 151.2 L509.4 152.4 L511.6 153.9 L513.8 155.8 L516.1 158.2 L518.3 161.1 L520.5 164.8 L522.7 169.3 L524.9 174.9 L527.1 181.6 L529.3 189.7 L531.6 199.3 L533.8 210.6 L536 223.6 L538.2 238.2 L540.4 254.4 L542.6 271.8 L544.8 290.1 L547.1 308.8 L549.3 327.4 L551.5 345.3 L553.7 362.2 L555.9 377.6 L558.1 391.5 L560.3 403.6 L562.6 414.1 L564.8 422.9 L567 430.4" fill="none" stroke="#000" stroke-width="1.8" stroke-dasharray="4 4.3" clip-path="url(#abr)"/>
<path d="M301.3 138.7 L303.5 138.7 L305.7 138.7 L307.9 138.7 L310.1 138.7 L312.3 138.7 L314.5 138.7 L316.8 138.7 L319 138.7 L321.2 138.7 L323.4 138.7 L325.6 138.7 L327.8 138.7 L330 138.7 L332.3 138.7 L334.5 138.7 L336.7 138.7 L338.9 138.7 L341.1 138.7 L343.3 138.7 L345.5 138.7 L347.8 138.7 L350 138.7 L352.2 138.7 L354.4 138.7 L356.6 138.7 L358.8 138.7 L361 138.7 L363.3 138.7 L365.5 138.7 L367.7 138.7 L369.9 138.7 L372.1 138.7 L374.3 138.7 L376.5 138.7 L378.8 138.7 L381 138.7 L383.2 138.7 L385.4 138.7 L387.6 138.7 L389.8 138.7 L392 138.7 L394.3 138.7 L396.5 138.7 L398.7 138.7 L400.9 138.7 L403.1 138.7 L405.3 138.7 L407.5 138.7 L409.8 138.7 L412 138.7 L414.2 138.7 L416.4 138.7 L418.6 138.7 L420.8 138.7 L423.1 138.7 L425.3 138.7 L427.5 138.7 L429.7 138.7 L431.9 138.7 L434.1 138.7 L436.3 138.7 L438.6 138.7 L440.8 138.7 L443 138.7 L445.2 138.7 L447.4 138.7 L449.6 138.7 L451.8 138.7 L454.1 138.7 L456.3 138.7 L458.5 138.7 L460.7 138.7 L462.9 138.7 L465.1 138.7 L467.3 138.7 L469.6 138.7 L471.8 138.7 L474 138.7 L476.2 138.8 L478.4 138.8 L480.6 138.8 L482.8 138.9 L485.1 138.9 L487.3 139 L489.5 139.1 L491.7 139.2 L493.9 139.3 L496.1 139.5 L498.3 139.7 L500.6 140 L502.8 140.4 L505 140.8 L507.2 141.4 L509.4 142.2 L511.6 143.1 L513.8 144.4 L516.1 145.9 L518.3 147.9 L520.5 150.4 L522.7 153.5 L524.9 157.4 L527.1 162.3 L529.3 168.2 L531.6 175.5 L533.8 184.4 L536 194.9 L538.2 207.3 L540.4 221.5 L542.6 237.6 L544.8 255.2 L547.1 274.1 L549.3 293.8 L551.5 313.7 L553.7 333.1 L555.9 351.7 L558.1 368.8 L560.3 384.2 L562.6 397.8 L564.8 409.5 L567 419.5" fill="none" stroke="#000" stroke-width="1.6" clip-path="url(#abr)"/>
<g stroke="#000" stroke-width="4" fill="none" stroke-linecap="butt">
<path d="M139.9 64 V473.1"/>
<path d="M128.1 461.9 H759.3" stroke-width="4.2"/>
<path d="M128.1 389.7 H139.9"/>
<path d="M128.1 317.4 H139.9"/>
<path d="M128.1 245.2 H139.9"/>
<path d="M128.1 173 H139.9"/>
<path d="M128.1 100.8 H139.9"/>
<path d="M294.3 461.9 V473.1"/>
<path d="M448.8 461.9 V473.1"/>
<path d="M603.3 461.9 V473.1"/>
<path d="M757.8 461.9 V473.1"/>
</g>
<text x="106.9" y="471.8" font-size="31" font-weight="bold" letter-spacing="-0.7">0</text>
<text x="90.4" y="399.6" font-size="31" font-weight="bold" letter-spacing="-0.7">20</text>
<text x="90.4" y="327.3" font-size="31" font-weight="bold" letter-spacing="-0.7">40</text>
<text x="90.4" y="255.1" font-size="31" font-weight="bold" letter-spacing="-0.7">60</text>
<text x="90.4" y="182.9" font-size="31" font-weight="bold" letter-spacing="-0.7">80</text>
<text x="73.8" y="110.7" font-size="31" font-weight="bold" letter-spacing="-0.7">100</text>
<text x="126.7" y="504.5" font-size="31" font-weight="bold" letter-spacing="-0.7">-2</text>
<text x="285.9" y="504.5" font-size="31" font-weight="bold">0</text>
<text x="440.4" y="504.5" font-size="31" font-weight="bold">2</text>
<text x="594.7" y="504.5" font-size="31" font-weight="bold">4</text>
<text x="749.4" y="504.5" font-size="31" font-weight="bold">6</text>
<text x="53.9" y="424.5" font-size="33" font-weight="bold" transform="rotate(-90 53.9 424.5)">Parasite Viability (%)</text>
<text x="320" y="555" font-size="28.96" font-weight="bold">Log [MMV1580488] (nM)</text>
<rect x="296" y="525" width="4" height="3" fill="#000"/>
<path d="M400.8 115.5 V131 M394 115.5 H407.5 M394 131 H407.5" stroke="#000" stroke-width="1.8" fill="none"/>
<path d="M424 123.8 V154 M417.2 123.8 H430.8 M417.2 154 H430.8" stroke="#000" stroke-width="1.8" fill="none"/>
<path d="M447.2 122.4 V139.3 M440.5 122.4 H454 M440.5 139.3 H454" stroke="#000" stroke-width="1.8" fill="none"/>
<path d="M470.5 114 V163.8 M463.8 114 H477.2 M463.8 163.8 H477.2" stroke="#000" stroke-width="1.8" fill="none"/>
<path d="M493.8 139 V169 M487 139 H500.5 M487 169 H500.5" stroke="#000" stroke-width="1.8" fill="none"/>
<path d="M517 160.5 V199.7 M510.2 160.5 H523.8 M510.2 199.7 H523.8" stroke="#000" stroke-width="1.8" fill="none"/>
<path d="M540.2 198.8 V243.4 M533.5 198.8 H547 M533.5 243.4 H547" stroke="#000" stroke-width="1.8" fill="none"/>
<path d="M564.3 396.1 V409 M557.5 396.1 H571" stroke="#000" stroke-width="1.8" fill="none"/>
<circle cx="404.4" cy="123.3" r="5.6"/>
<circle cx="424" cy="137.5" r="6.3"/>
<circle cx="447.2" cy="131.5" r="6.3"/>
<circle cx="470.5" cy="138.5" r="6.3"/>
<circle cx="493.8" cy="154.2" r="6.3"/>
<circle cx="517" cy="180.3" r="6.3"/>
<circle cx="540.2" cy="221.4" r="6.3"/>
<circle cx="586.8" cy="461" r="6.3"/>
<circle cx="610" cy="461" r="6.3"/>
<circle cx="633.2" cy="461" r="6.3"/>
<circle cx="656.5" cy="461" r="6.3"/>
<path d="M271.2 107.5 V130.5 M264.4 107.5 H277.9 M264.4 130.5 H277.9" stroke="#000" stroke-width="1.8" fill="none"/>
<path d="M307.6 127.8 V145.5 M300.9 127.8 H314.4 M300.9 145.5 H314.4" stroke="#000" stroke-width="1.8" fill="none"/>
<path d="M344.4 125.6 V145.5 M337.6 125.6 H351.1 M337.6 145.5 H351.1" stroke="#000" stroke-width="1.8" fill="none"/>
<path d="M417.8 213.5 V227.5 M411.1 213.5 H424.6 M411.1 227.5 H424.6" stroke="#000" stroke-width="1.8" fill="none"/>
<path d="M454.2 346.4 V363 M447.4 346.4 H460.9 M447.4 363 H460.9" stroke="#000" stroke-width="1.8" fill="none"/>
<path d="M492.3 359.3 V373 M485.6 359.3 H499.1 M485.6 373 H499.1" stroke="#000" stroke-width="1.8" fill="none"/>
<path d="M234.4 112.1 L241.1 123.7 L227.7 123.7 Z"/>
<path d="M271.2 112.9 L277.9 124.5 L264.5 124.5 Z"/>
<path d="M307.6 132.1 L314.3 143.7 L300.9 143.7 Z"/>
<path d="M344.4 130.5 L351.1 142.1 L337.7 142.1 Z"/>
<path d="M409.5 144.8 L416.2 156.4 L402.8 156.4 Z"/>
<path d="M417.8 215.3 L424.5 226.9 L411.1 226.9 Z"/>
<path d="M454.2 349.7 L460.9 361.3 L447.5 361.3 Z"/>
<path d="M492.3 360.2 L499 371.8 L485.6 371.8 Z"/>
<path d="M529.2 438.5 L535.9 450.1 L522.5 450.1 Z"/>
<path d="M566.9 446.7 L573.6 458.3 L560.2 458.3 Z"/>
<path d="M603.4 440.3 L610.1 451.9 L596.7 451.9 Z"/>
<path d="M409.5 116.8 V134.3 M402.8 116.8 H416.2 M402.8 134.3 H416.2" stroke="#000" stroke-width="1.8" fill="none"/>
<path d="M454.2 199.3 V223.3 M447.4 199.3 H460.9 M447.4 223.3 H460.9" stroke="#000" stroke-width="1.8" fill="none"/>
<path d="M492.3 307.8 V331.7 M485.6 307.8 H499.1 M485.6 331.7 H499.1" stroke="#000" stroke-width="1.8" fill="none"/>
<rect x="228.2" y="94.8" width="12.4" height="12.4"/>
<rect x="265" y="94.8" width="12.4" height="12.4"/>
<rect x="301.4" y="94.8" width="12.4" height="12.4"/>
<rect x="338.2" y="94.8" width="12.4" height="12.4"/>
<rect x="403.3" y="118.8" width="12.4" height="12.4"/>
<rect x="448" y="205" width="12.4" height="12.4"/>
<rect x="486.1" y="313.5" width="12.4" height="12.4"/>
<rect x="523" y="395.5" width="12.4" height="12.4"/>
<rect x="560.7" y="402.8" width="12.4" height="12.4"/>
<rect x="597.6" y="418.5" width="12.4" height="12.4"/>
<text x="476" y="277.6" font-size="55.5">*</text>
<text x="501.2" y="277.6" font-size="55.5">*</text>
<text x="485.2" y="301.9" font-size="55.5">*</text>
<text x="510.1" y="301.9" font-size="55.5">*</text>
<path d="M443.5 258.3 H533.8 M485.5 282.6 H536" stroke="#000" stroke-width="2.4" fill="none"/>
<path d="M239.6 314.5 L249.8 337.9 L229.5 337.9 Z"/>
<rect x="228.2" y="349.7" width="22.9" height="20.8"/>
<ellipse cx="241.5" cy="392.3" rx="11.7" ry="12.5"/>
<text x="262.5" y="335.9" font-size="27.9">LG</text>
<text x="262.8" y="366.4" font-size="27.9">EG</text>
<text x="263.4" y="399.2" font-size="27.4">ABS</text>
</g>
<g id="panel-b">
<text x="854.7" y="46.2" font-size="65.5" font-weight="bold">b</text>
<rect x="1068.7" y="233.4" width="56" height="228.1" rx="1.5" fill="#000"/>
<rect x="1074.4" y="238.4" width="44.6" height="223.1" fill="#fff"/>
<rect x="1144.9" y="222.4" width="56" height="239.1" rx="1.5" fill="#000"/>
<rect x="1150.6" y="227.4" width="44.6" height="234.1" fill="#a19fa4"/>
<rect x="1297.2" y="224.9" width="56" height="236.6" rx="1.5" fill="#000"/>
<rect x="1302.9" y="229.9" width="44.6" height="231.6" fill="#fff"/>
<rect x="1373.2" y="128.7" width="56" height="332.8" rx="1.5" fill="#000"/>
<rect x="1378.9" y="133.7" width="44.6" height="327.8" fill="#a19fa4"/>
<rect x="1525.7" y="246.2" width="56" height="215.3" rx="1.5" fill="#000"/>
<rect x="1531.4" y="251.2" width="44.6" height="210.3" fill="#fff"/>
<rect x="1601.7" y="241.3" width="56" height="220.2" rx="1.5" fill="#000"/>
<rect x="1607.4" y="246.3" width="44.6" height="215.2" fill="#a19fa4"/>
<g stroke="#000" fill="none">
<path d="M1058.5 61.3 V463.8" stroke-width="5.8"/>
<path d="M1055.6 461.5 H1667.6" stroke-width="4.6"/>
<path d="M1050.3 461.5 H1058" stroke-width="4.4"/>
<path d="M1050.3 382.1 H1058" stroke-width="4.4"/>
<path d="M1050.3 302.6 H1058" stroke-width="4.4"/>
<path d="M1050.3 223.2 H1058" stroke-width="4.4"/>
<path d="M1050.3 143.7 H1058" stroke-width="4.4"/>
<path d="M1050.3 64.2 H1058" stroke-width="4.4"/>
<path d="M1096.2 461.5 V472.5" stroke-width="5.5"/>
<path d="M1172.4 461.5 V472.5" stroke-width="5.5"/>
<path d="M1248.6 461.5 V472.5" stroke-width="5.5"/>
<path d="M1324.7 461.5 V472.5" stroke-width="5.5"/>
<path d="M1400.7 461.5 V472.5" stroke-width="5.5"/>
<path d="M1477 461.5 V472.5" stroke-width="5.5"/>
<path d="M1553.2 461.5 V472.5" stroke-width="5.5"/>
<path d="M1629.2 461.5 V472.5" stroke-width="5.5"/>
</g>
<text x="1024.9" y="474" font-size="30.9" font-weight="bold" letter-spacing="-0.5">0</text>
<text x="991.5" y="394.6" font-size="30.9" font-weight="bold" letter-spacing="-0.5">200</text>
<text x="991.5" y="315.1" font-size="30.9" font-weight="bold" letter-spacing="-0.5">400</text>
<text x="991.5" y="235.7" font-size="30.9" font-weight="bold" letter-spacing="-0.5">600</text>
<text x="991.5" y="156.2" font-size="30.9" font-weight="bold" letter-spacing="-0.5">800</text>
<text x="974.9" y="76.8" font-size="30.9" font-weight="bold" letter-spacing="-0.5">1000</text>
<text x="933.5" y="441.4" font-size="31.12" font-weight="bold" transform="rotate(-90 933.5 441.4)">Relative Abundance Units</text>
<text x="969" y="306.1" font-size="30.98" font-weight="bold" transform="rotate(-90 969 306.1)">(x 1000)</text>
<path d="M1095.9 222.4 V247.6 M1082.7 222.4 H1109.1 M1082.7 247.6 H1109.1" stroke="#000" stroke-width="3.8" stroke-linecap="round" fill="none"/>
<circle cx="1095.2" cy="213.8" r="8.3"/>
<circle cx="1107.4" cy="238" r="8.3"/>
<circle cx="1095.2" cy="255.2" r="8.3"/>
<path d="M1172.3 206.9 V244 M1159.1 206.9 H1185.5 M1159.1 244 H1185.5" stroke="#000" stroke-width="3.8" stroke-linecap="round" fill="none"/>
<rect x="1151.3" y="190.8" width="16.6" height="16.6"/>
<rect x="1163.4" y="206.5" width="16.6" height="16.6"/>
<rect x="1163.4" y="253.3" width="16.6" height="16.6"/>
<circle cx="1312.2" cy="221.2" r="8.3"/>
<circle cx="1323.7" cy="232.9" r="8.3"/>
<circle cx="1336.2" cy="226" r="8.3"/>
<path d="M1401.2 102.8 V159 M1388 102.8 H1414.4 M1388 159 H1414.4" stroke="#000" stroke-width="3.8" stroke-linecap="round" fill="none"/>
<rect x="1379.8" y="93.2" width="16.6" height="16.6"/>
<rect x="1392.5" y="95.7" width="16.6" height="16.6"/>
<rect x="1392.5" y="179.1" width="16.6" height="16.6"/>
<path d="M1553.5 224.8 V273.6 M1540.3 224.8 H1566.7 M1540.3 273.6 H1566.7" stroke="#000" stroke-width="3.8" stroke-linecap="round" fill="none"/>
<circle cx="1553.3" cy="205.9" r="8.3"/>
<circle cx="1553.3" cy="251.2" r="8.3"/>
<circle cx="1553.3" cy="290" r="8.3"/>
<path d="M1629.9 227 V261.9 M1616.7 227 H1643.1 M1616.7 261.9 H1643.1" stroke="#000" stroke-width="3.8" stroke-linecap="round" fill="none"/>
<rect x="1609.3" y="216.7" width="16.6" height="16.6"/>
<rect x="1621.4" y="220.9" width="16.6" height="16.6"/>
<rect x="1621.4" y="270.6" width="16.6" height="16.6"/>
<path d="M1313.2 81.1 H1402.6" stroke="#000" stroke-width="2.5"/>
<text x="1351.6" y="86.8" font-size="34.29" font-weight="bold">*</text>
<path d="M1079.8 489 H1195.9 M1305.9 489 H1420.9 M1537.2 489 H1652.6" stroke="#000" stroke-width="2.2"/>
<text x="1085.3" y="523.9" font-size="28.9" font-weight="bold">H3Core</text>
<text x="1298.6" y="523.9" font-size="28.9" font-weight="bold">H3K9me3</text>
<text x="1543.6" y="523.9" font-size="28.9" font-weight="bold">H3K9ac</text>
<ellipse cx="1540.2" cy="66.3" rx="10" ry="11.2"/>
<rect x="1527.9" y="100.9" width="22.4" height="28.1"/>
<text x="1567.9" y="77.7" font-size="28.3">Vehicle</text>
<text x="1566.1" y="128.9" font-size="27.8">MMV1580488</text>
</g>
<g id="panel-c">
<text x="-1" y="712.9" font-size="65.5" font-weight="bold">c</text>
<defs><filter id="vb" x="-5%" y="-2%" width="110%" height="104%"><feGaussianBlur stdDeviation="0 0.7"/></filter><clipPath id="hc1"><rect x="176" y="794" width="160" height="374"/></clipPath><clipPath id="hc2"><rect x="176" y="1219.5" width="160" height="367"/></clipPath></defs>
<g clip-path="url(#hc1)"><g filter="url(#vb)">
<rect x="177.3" y="795.3" width="78.6" height="2" fill="#f3e3e6"/>
<rect x="177.3" y="796.9" width="78.6" height="1.7" fill="#eacdd3"/>
<rect x="177.3" y="798.2" width="78.6" height="1.6" fill="#e7e0e2"/>
<rect x="177.3" y="799.4" width="78.6" height="2.1" fill="#ecdce1"/>
<rect x="177.3" y="801.1" width="78.6" height="1.7" fill="#f1c2cd"/>
<rect x="177.3" y="802.4" width="78.6" height="2" fill="#f1dfe3"/>
<rect x="177.3" y="804" width="78.6" height="2.5" fill="#eebec9"/>
<rect x="177.3" y="806.1" width="78.6" height="1.8" fill="#fab0c1"/>
<rect x="177.3" y="807.5" width="78.6" height="2.4" fill="#e6b6c1"/>
<rect x="177.3" y="809.5" width="78.6" height="2.5" fill="#f8c3cf"/>
<rect x="177.3" y="811.6" width="78.6" height="1.6" fill="#ea92a6"/>
<rect x="177.3" y="812.8" width="78.6" height="1.6" fill="#dfa4b1"/>
<rect x="177.3" y="814" width="78.6" height="1.7" fill="#eac8d0"/>
<rect x="177.3" y="815.3" width="78.6" height="1.7" fill="#ee879e"/>
<rect x="177.3" y="816.7" width="78.6" height="1.7" fill="#eaabb9"/>
<rect x="177.3" y="818" width="78.6" height="1.7" fill="#f4cbd6"/>
<rect x="177.3" y="819.3" width="78.6" height="1.6" fill="#f0d2d8"/>
<rect x="177.3" y="820.5" width="78.6" height="2.4" fill="#ecc6cf"/>
<rect x="177.3" y="822.5" width="78.6" height="2.4" fill="#e2cbd0"/>
<rect x="177.3" y="824.5" width="78.6" height="1.7" fill="#f1cdd5"/>
<rect x="177.3" y="825.8" width="78.6" height="1.6" fill="#edbfc9"/>
<rect x="177.3" y="827" width="78.6" height="2.1" fill="#e9aebb"/>
<rect x="177.3" y="828.7" width="78.6" height="2.1" fill="#fbe2e7"/>
<rect x="177.3" y="830.4" width="78.6" height="1.5" fill="#d797a5"/>
<rect x="177.3" y="831.5" width="78.6" height="2.1" fill="#fdb9c8"/>
<rect x="177.3" y="833.2" width="78.6" height="2.2" fill="#d4b2b9"/>
<rect x="177.3" y="834.9" width="78.6" height="2.2" fill="#f2c5cf"/>
<rect x="177.3" y="836.7" width="78.6" height="1.8" fill="#f8c8d2"/>
<rect x="177.3" y="838.2" width="78.6" height="2.2" fill="#efeaeb"/>
<rect x="177.3" y="840" width="78.6" height="2.4" fill="#fadbe2"/>
<rect x="177.3" y="842" width="78.6" height="2.1" fill="#e9aebb"/>
<rect x="177.3" y="843.7" width="78.6" height="2.5" fill="#f7e0e5"/>
<rect x="177.3" y="845.8" width="78.6" height="1.9" fill="#e8c2cb"/>
<rect x="177.3" y="847.3" width="78.6" height="2" fill="#f5a2b4"/>
<rect x="177.3" y="848.9" width="78.6" height="1.8" fill="#ecbac5"/>
<rect x="177.3" y="850.3" width="78.6" height="2.4" fill="#efd7dc"/>
<rect x="177.3" y="852.2" width="78.6" height="1.7" fill="#fbc2cf"/>
<rect x="177.3" y="853.6" width="78.6" height="2.1" fill="#fac6d1"/>
<rect x="177.3" y="855.2" width="78.6" height="2.2" fill="#dcb9c1"/>
<rect x="177.3" y="857" width="78.6" height="1.7" fill="#eeb8c4"/>
<rect x="177.3" y="858.4" width="78.6" height="2.5" fill="#ecd2ce"/>
<rect x="177.3" y="860.4" width="78.6" height="2.2" fill="#e8ccd2"/>
<rect x="177.3" y="862.2" width="78.6" height="2" fill="#efcecb"/>
<rect x="177.3" y="863.8" width="78.6" height="2.1" fill="#dbd5f1"/>
<rect x="177.3" y="865.5" width="78.6" height="2.2" fill="#dbd5f1"/>
<rect x="177.3" y="867.3" width="78.6" height="2.2" fill="#f7b7c6"/>
<rect x="177.3" y="869.1" width="78.6" height="2.1" fill="#faedf1"/>
<rect x="177.3" y="870.8" width="78.6" height="2.4" fill="#f5d4db"/>
<rect x="177.3" y="872.8" width="78.6" height="1.9" fill="#fcebef"/>
<rect x="177.3" y="874.3" width="78.6" height="2.1" fill="#f5a8b9"/>
<rect x="177.3" y="876" width="78.6" height="1.7" fill="#f3e4e7"/>
<rect x="177.3" y="877.4" width="78.6" height="1.8" fill="#e9cad1"/>
<rect x="177.3" y="878.8" width="78.6" height="2" fill="#efe0e5"/>
<rect x="177.3" y="880.4" width="78.6" height="2.3" fill="#eba7b7"/>
<rect x="177.3" y="882.3" width="78.6" height="2" fill="#fcf8f9"/>
<rect x="177.3" y="883.9" width="78.6" height="2.4" fill="#eeb6c2"/>
<rect x="177.3" y="886" width="78.6" height="2.1" fill="#eecfd6"/>
<rect x="177.3" y="887.7" width="78.6" height="2.3" fill="#fdd9e1"/>
<rect x="177.3" y="889.6" width="78.6" height="2.1" fill="#f4cac9"/>
<rect x="177.3" y="891.3" width="78.6" height="2.5" fill="#f4cdd6"/>
<rect x="177.3" y="893.4" width="78.6" height="2.2" fill="#fcbfcd"/>
<rect x="177.3" y="895.1" width="78.6" height="1.8" fill="#f9cad5"/>
<rect x="177.3" y="896.5" width="78.6" height="2" fill="#fcc1ce"/>
<rect x="177.3" y="898.1" width="78.6" height="2.3" fill="#f6c5d0"/>
<rect x="177.3" y="900" width="78.6" height="1.9" fill="#eac7cf"/>
<rect x="177.3" y="901.4" width="78.6" height="1.8" fill="#f0a8b8"/>
<rect x="177.3" y="902.8" width="78.6" height="2" fill="#f5b9c6"/>
<rect x="177.3" y="904.4" width="78.6" height="2.3" fill="#f8edf0"/>
<rect x="177.3" y="906.4" width="78.6" height="2.4" fill="#ecb4c0"/>
<rect x="177.3" y="908.3" width="78.6" height="2.4" fill="#f3d6de"/>
<rect x="177.3" y="910.3" width="78.6" height="2.3" fill="#dba8b4"/>
<rect x="177.3" y="912.2" width="78.6" height="1.5" fill="#fdaec0"/>
<rect x="177.3" y="913.4" width="78.6" height="2" fill="#f3e9ec"/>
<rect x="177.3" y="915" width="78.6" height="1.6" fill="#f4bcc8"/>
<rect x="177.3" y="916.2" width="78.6" height="1.7" fill="#fbc9d6"/>
<rect x="177.3" y="917.5" width="78.6" height="1.6" fill="#efc3cd"/>
<rect x="177.3" y="918.7" width="78.6" height="2" fill="#e1acb8"/>
<rect x="177.3" y="920.3" width="78.6" height="1.7" fill="#ecbdc8"/>
<rect x="177.3" y="921.6" width="78.6" height="2" fill="#f7c0cc"/>
<rect x="177.3" y="923.2" width="78.6" height="2.1" fill="#fdbecc"/>
<rect x="177.3" y="924.9" width="78.6" height="1.8" fill="#f9dbe2"/>
<rect x="177.3" y="926.3" width="78.6" height="2.4" fill="#f8dbe2"/>
<rect x="177.3" y="928.3" width="78.6" height="2.2" fill="#e8adba"/>
<rect x="177.3" y="930.1" width="78.6" height="2.1" fill="#f6d2da"/>
<rect x="177.3" y="931.8" width="78.6" height="2.2" fill="#fddfe6"/>
<rect x="177.3" y="933.6" width="78.6" height="2.2" fill="#cfccd9"/>
<rect x="177.3" y="935.4" width="78.6" height="1.8" fill="#ead3da"/>
<rect x="177.3" y="936.7" width="78.6" height="1.8" fill="#fddbe3"/>
<rect x="177.3" y="938.1" width="78.6" height="2.5" fill="#dfd6d8"/>
<rect x="177.3" y="940.2" width="78.6" height="1.6" fill="#ebc5ce"/>
<rect x="177.3" y="941.3" width="78.6" height="2.1" fill="#f3a8b9"/>
<rect x="177.3" y="943" width="78.6" height="1.9" fill="#ee9eb0"/>
<rect x="177.3" y="944.5" width="78.6" height="1.8" fill="#d6a8b3"/>
<rect x="177.3" y="945.9" width="78.6" height="1.9" fill="#e7c9d0"/>
<rect x="177.3" y="947.4" width="78.6" height="1.6" fill="#fdd2dc"/>
<rect x="177.3" y="948.6" width="78.6" height="2" fill="#fdd0da"/>
<rect x="177.3" y="950.2" width="78.6" height="2.1" fill="#f3cbd5"/>
<rect x="177.3" y="951.9" width="78.6" height="2" fill="#f1a9b9"/>
<rect x="177.3" y="953.5" width="78.6" height="2.1" fill="#fdbbca"/>
<rect x="177.3" y="955.2" width="78.6" height="2.2" fill="#f9c0cc"/>
<rect x="177.3" y="957.1" width="78.6" height="1.9" fill="#f4a6b7"/>
<rect x="177.3" y="958.5" width="78.6" height="2.2" fill="#fbbcca"/>
<rect x="177.3" y="960.4" width="78.6" height="1.6" fill="#f5beca"/>
<rect x="177.3" y="961.5" width="78.6" height="2" fill="#f3bfcb"/>
<rect x="177.3" y="963.2" width="78.6" height="1.9" fill="#f8c9d3"/>
<rect x="177.3" y="964.6" width="78.6" height="1.6" fill="#f8a8ba"/>
<rect x="177.3" y="965.8" width="78.6" height="1.9" fill="#f69cb0"/>
<rect x="177.3" y="967.4" width="78.6" height="1.8" fill="#f1d5db"/>
<rect x="177.3" y="968.8" width="78.6" height="1.6" fill="#dfbec5"/>
<rect x="177.3" y="970" width="78.6" height="2.2" fill="#d892a1"/>
<rect x="177.3" y="971.8" width="78.6" height="1.6" fill="#eea4b5"/>
<rect x="177.3" y="973" width="78.6" height="1.9" fill="#e2cfd4"/>
<rect x="177.3" y="974.4" width="78.6" height="2.4" fill="#f9d7df"/>
<rect x="177.3" y="976.4" width="78.6" height="1.8" fill="#eda7b6"/>
<rect x="177.3" y="977.9" width="78.6" height="1.9" fill="#ecb5c1"/>
<rect x="177.3" y="979.3" width="78.6" height="2.3" fill="#ebd6db"/>
<rect x="177.3" y="981.2" width="78.6" height="2.4" fill="#f3c9d3"/>
<rect x="177.3" y="983.2" width="78.6" height="2.4" fill="#dedcdd"/>
<rect x="177.3" y="985.2" width="78.6" height="1.6" fill="#e9acba"/>
<rect x="177.3" y="986.4" width="78.6" height="1.7" fill="#ece1e3"/>
<rect x="177.3" y="987.7" width="78.6" height="2" fill="#fde5eb"/>
<rect x="177.3" y="989.3" width="78.6" height="2" fill="#fbdde4"/>
<rect x="177.3" y="990.9" width="78.6" height="2.3" fill="#f7f7f9"/>
<rect x="177.3" y="992.8" width="78.6" height="2.4" fill="#f9eaed"/>
<rect x="177.3" y="994.9" width="78.6" height="1.9" fill="#f0a7b7"/>
<rect x="177.3" y="996.4" width="78.6" height="1.7" fill="#e9b9c4"/>
<rect x="177.3" y="997.7" width="78.6" height="1.6" fill="#d4cfd0"/>
<rect x="177.3" y="998.9" width="78.6" height="2.1" fill="#ff9bb1"/>
<rect x="177.3" y="1000.6" width="78.6" height="1.7" fill="#ece1e3"/>
<rect x="177.3" y="1002" width="78.6" height="1.7" fill="#f9e2e7"/>
<rect x="177.3" y="1003.2" width="78.6" height="1.8" fill="#f3e1e5"/>
<rect x="177.3" y="1004.6" width="78.6" height="2" fill="#f9c0cd"/>
<rect x="177.3" y="1006.2" width="78.6" height="2" fill="#f6ccd5"/>
<rect x="177.3" y="1007.8" width="78.6" height="1.5" fill="#f7cbd5"/>
<rect x="177.3" y="1009" width="78.6" height="1.7" fill="#fabcca"/>
<rect x="177.3" y="1010.2" width="78.6" height="2.1" fill="#ebbec8"/>
<rect x="177.3" y="1012" width="78.6" height="1.5" fill="#e9e0e2"/>
<rect x="177.3" y="1013.1" width="78.6" height="2.2" fill="#fcb7c6"/>
<rect x="177.3" y="1014.9" width="78.6" height="2.3" fill="#facdd9"/>
<rect x="177.3" y="1016.8" width="78.6" height="2.3" fill="#eba3b3"/>
<rect x="177.3" y="1018.7" width="78.6" height="1.8" fill="#f2bcc8"/>
<rect x="177.3" y="1020.2" width="78.6" height="1.9" fill="#f2cfd7"/>
<rect x="177.3" y="1021.6" width="78.6" height="2.3" fill="#f7cdd7"/>
<rect x="177.3" y="1023.5" width="78.6" height="2.1" fill="#f9cbd6"/>
<rect x="177.3" y="1025.2" width="78.6" height="2.1" fill="#eeafbd"/>
<rect x="177.3" y="1026.9" width="78.6" height="1.9" fill="#e2c9cf"/>
<rect x="177.3" y="1028.4" width="78.6" height="2.4" fill="#f9ecf1"/>
<rect x="177.3" y="1030.4" width="78.6" height="1.7" fill="#ebadbb"/>
<rect x="177.3" y="1031.7" width="78.6" height="2.3" fill="#ebc6cf"/>
<rect x="177.3" y="1033.6" width="78.6" height="1.9" fill="#f3a7b8"/>
<rect x="177.3" y="1035.1" width="78.6" height="2.3" fill="#f2ddd7"/>
<rect x="177.3" y="1037" width="78.6" height="1.9" fill="#e7e4f0"/>
<rect x="177.3" y="1038.5" width="78.6" height="1.5" fill="#eaafbc"/>
<rect x="177.3" y="1039.6" width="78.6" height="2" fill="#ebe7e8"/>
<rect x="177.3" y="1041.2" width="78.6" height="2.4" fill="#ebc9d1"/>
<rect x="177.3" y="1043.2" width="78.6" height="2.5" fill="#eccdd4"/>
<rect x="177.3" y="1045.3" width="78.6" height="2.1" fill="#f4c3ce"/>
<rect x="177.3" y="1047" width="78.6" height="1.8" fill="#eac7cf"/>
<rect x="177.3" y="1048.4" width="78.6" height="1.7" fill="#f4d2da"/>
<rect x="177.3" y="1049.7" width="78.6" height="2.4" fill="#eab6c2"/>
<rect x="177.3" y="1051.7" width="78.6" height="1.8" fill="#facdd7"/>
<rect x="177.3" y="1053.1" width="78.6" height="2" fill="#e7b4c0"/>
<rect x="177.3" y="1054.7" width="78.6" height="2.2" fill="#f0a3b4"/>
<rect x="177.3" y="1056.5" width="78.6" height="2.3" fill="#ebbac5"/>
<rect x="177.3" y="1058.4" width="78.6" height="2.1" fill="#f4aaba"/>
<rect x="177.3" y="1060" width="78.6" height="2.1" fill="#e7acb9"/>
<rect x="177.3" y="1061.8" width="78.6" height="2" fill="#f8b9c7"/>
<rect x="177.3" y="1063.4" width="78.6" height="2" fill="#f0bdc9"/>
<rect x="177.3" y="1064.9" width="78.6" height="2.1" fill="#f1cbd3"/>
<rect x="177.3" y="1066.6" width="78.6" height="1.8" fill="#f7b1c1"/>
<rect x="177.3" y="1068" width="78.6" height="2.2" fill="#d690a0"/>
<rect x="177.3" y="1069.9" width="78.6" height="2" fill="#f3c0cb"/>
<rect x="177.3" y="1071.5" width="78.6" height="1.8" fill="#ab9dde"/>
<rect x="177.3" y="1072.9" width="78.6" height="2.2" fill="#ab9dde"/>
<rect x="177.3" y="1074.6" width="78.6" height="2.1" fill="#eac2cb"/>
<rect x="177.3" y="1076.3" width="78.6" height="2.4" fill="#f4dae1"/>
<rect x="177.3" y="1078.3" width="78.6" height="2.4" fill="#f4e0da"/>
<rect x="177.3" y="1080.3" width="78.6" height="1.5" fill="#fcd4dd"/>
<rect x="177.3" y="1081.5" width="78.6" height="2" fill="#fbb5c5"/>
<rect x="177.3" y="1083" width="78.6" height="2.3" fill="#e5a8b6"/>
<rect x="177.3" y="1085" width="78.6" height="1.7" fill="#e9cbd1"/>
<rect x="177.3" y="1086.3" width="78.6" height="2.2" fill="#f7a1b4"/>
<rect x="177.3" y="1088.1" width="78.6" height="2.2" fill="#d8b7bf"/>
<rect x="177.3" y="1089.9" width="78.6" height="2.2" fill="#f6b9c7"/>
<rect x="177.3" y="1091.7" width="78.6" height="1.9" fill="#edecec"/>
<rect x="177.3" y="1093.2" width="78.6" height="2.4" fill="#ead2d7"/>
<rect x="177.3" y="1095.2" width="78.6" height="1.9" fill="#dfc2c9"/>
<rect x="177.3" y="1096.7" width="78.6" height="1.8" fill="#f8d8df"/>
<rect x="177.3" y="1098.1" width="78.6" height="1.8" fill="#f8e0db"/>
<rect x="177.3" y="1099.5" width="78.6" height="2" fill="#f2e0e4"/>
<rect x="177.3" y="1101" width="78.6" height="2.1" fill="#f9e1e6"/>
<rect x="177.3" y="1102.7" width="78.6" height="2" fill="#fcebef"/>
<rect x="177.3" y="1104.3" width="78.6" height="2.3" fill="#f1a6b7"/>
<rect x="177.3" y="1106.2" width="78.6" height="2.3" fill="#ecced5"/>
<rect x="177.3" y="1108" width="78.6" height="2" fill="#f4b9c6"/>
<rect x="177.3" y="1109.6" width="78.6" height="1.7" fill="#f1bcc8"/>
<rect x="177.3" y="1110.9" width="78.6" height="1.8" fill="#f4ccd5"/>
<rect x="177.3" y="1112.3" width="78.6" height="2.3" fill="#e8afbc"/>
<rect x="177.3" y="1114.2" width="78.6" height="2.1" fill="#e9c3cc"/>
<rect x="177.3" y="1115.9" width="78.6" height="1.7" fill="#fabfcc"/>
<rect x="177.3" y="1117.2" width="78.6" height="1.6" fill="#edcfcb"/>
<rect x="177.3" y="1118.4" width="78.6" height="2" fill="#c9c6d5"/>
<rect x="177.3" y="1120" width="78.6" height="1.6" fill="#db889b"/>
<rect x="177.3" y="1121.1" width="78.6" height="1.9" fill="#f8c7d2"/>
<rect x="177.3" y="1122.6" width="78.6" height="1.7" fill="#f2a8b9"/>
<rect x="177.3" y="1124" width="78.6" height="1.9" fill="#e88fa3"/>
<rect x="177.3" y="1125.4" width="78.6" height="2.1" fill="#fac5d1"/>
<rect x="177.3" y="1127.2" width="78.6" height="2.4" fill="#f0c3cd"/>
<rect x="177.3" y="1129.2" width="78.6" height="1.7" fill="#ebb9c4"/>
<rect x="177.3" y="1130.5" width="78.6" height="1.7" fill="#fdd1db"/>
<rect x="177.3" y="1131.8" width="78.6" height="2.3" fill="#e1a6b4"/>
<rect x="177.3" y="1133.8" width="78.6" height="1.8" fill="#f0c1cc"/>
<rect x="177.3" y="1135.1" width="78.6" height="2.2" fill="#e6a7b6"/>
<rect x="177.3" y="1137" width="78.6" height="2.3" fill="#d5d4d8"/>
<rect x="177.3" y="1138.8" width="78.6" height="1.6" fill="#f6e4e9"/>
<rect x="177.3" y="1140" width="78.6" height="1.9" fill="#e9cbc8"/>
<rect x="177.3" y="1141.5" width="78.6" height="1.8" fill="#e2b0bb"/>
<rect x="177.3" y="1142.9" width="78.6" height="2.2" fill="#d9bec4"/>
<rect x="177.3" y="1144.7" width="78.6" height="1.9" fill="#eeaebc"/>
<rect x="177.3" y="1146.3" width="78.6" height="1.7" fill="#f4cad4"/>
<rect x="177.3" y="1147.6" width="78.6" height="2.5" fill="#eca6b6"/>
<rect x="177.3" y="1149.6" width="78.6" height="2.2" fill="#f7e2e9"/>
<rect x="177.3" y="1151.4" width="78.6" height="1.9" fill="#efbcc7"/>
<rect x="177.3" y="1152.9" width="78.6" height="1.8" fill="#eba9b8"/>
<rect x="177.3" y="1154.3" width="78.6" height="1.8" fill="#ebafbd"/>
<rect x="177.3" y="1155.7" width="78.6" height="2.2" fill="#dbc0c6"/>
<rect x="177.3" y="1157.5" width="78.6" height="1.6" fill="#f4c6d1"/>
<rect x="177.3" y="1158.6" width="78.6" height="1.8" fill="#fbcad5"/>
<rect x="177.3" y="1160.1" width="78.6" height="1.8" fill="#f5d7de"/>
<rect x="177.3" y="1161.4" width="78.6" height="1.9" fill="#f5edef"/>
<rect x="177.3" y="1162.9" width="78.6" height="1.9" fill="#fbcdd7"/>
<rect x="177.3" y="1164.4" width="78.6" height="2.3" fill="#eec3cd"/>
<rect x="255.9" y="795.3" width="78.7" height="2.5" fill="#eae8f1"/>
<rect x="255.9" y="797.4" width="78.7" height="1.5" fill="#d2cde6"/>
<rect x="255.9" y="798.5" width="78.7" height="2" fill="#ccc4ea"/>
<rect x="255.9" y="800.1" width="78.7" height="1.9" fill="#d3cde9"/>
<rect x="255.9" y="801.6" width="78.7" height="2.4" fill="#d1cbe5"/>
<rect x="255.9" y="803.6" width="78.7" height="1.9" fill="#ede6e7"/>
<rect x="255.9" y="805.1" width="78.7" height="1.8" fill="#e6e4e7"/>
<rect x="255.9" y="806.5" width="78.7" height="1.6" fill="#d7d1eb"/>
<rect x="255.9" y="807.7" width="78.7" height="1.7" fill="#aea7c8"/>
<rect x="255.9" y="809" width="78.7" height="2.3" fill="#f1f0f5"/>
<rect x="255.9" y="810.9" width="78.7" height="1.8" fill="#b6acdc"/>
<rect x="255.9" y="812.3" width="78.7" height="2.2" fill="#b5add5"/>
<rect x="255.9" y="814.1" width="78.7" height="2.2" fill="#d2cfda"/>
<rect x="255.9" y="815.9" width="78.7" height="2.5" fill="#f5f5f5"/>
<rect x="255.9" y="818" width="78.7" height="2.4" fill="#e4dddc"/>
<rect x="255.9" y="820" width="78.7" height="1.8" fill="#c1b4c9"/>
<rect x="255.9" y="821.4" width="78.7" height="2" fill="#dfdaef"/>
<rect x="255.9" y="823" width="78.7" height="1.8" fill="#efecf7"/>
<rect x="255.9" y="824.4" width="78.7" height="2.2" fill="#afa9c7"/>
<rect x="255.9" y="826.2" width="78.7" height="2.4" fill="#e3dcd6"/>
<rect x="255.9" y="828.2" width="78.7" height="2.1" fill="#eae9eb"/>
<rect x="255.9" y="829.9" width="78.7" height="1.9" fill="#d4d2df"/>
<rect x="255.9" y="831.3" width="78.7" height="1.6" fill="#eaeaeb"/>
<rect x="255.9" y="832.5" width="78.7" height="2" fill="#dedce5"/>
<rect x="255.9" y="834.1" width="78.7" height="2.2" fill="#d1caea"/>
<rect x="255.9" y="835.9" width="78.7" height="1.9" fill="#a8a0c2"/>
<rect x="255.9" y="837.4" width="78.7" height="1.6" fill="#e2e0ea"/>
<rect x="255.9" y="838.7" width="78.7" height="1.5" fill="#dec1c8"/>
<rect x="255.9" y="839.8" width="78.7" height="2.3" fill="#d0c8e9"/>
<rect x="255.9" y="841.7" width="78.7" height="2.5" fill="#f7e8eb"/>
<rect x="255.9" y="843.7" width="78.7" height="2.4" fill="#e7e5ec"/>
<rect x="255.9" y="845.7" width="78.7" height="2.2" fill="#cfc9e2"/>
<rect x="255.9" y="847.5" width="78.7" height="2.4" fill="#ebe9f3"/>
<rect x="255.9" y="849.5" width="78.7" height="2.2" fill="#b6b1c9"/>
<rect x="255.9" y="851.3" width="78.7" height="1.9" fill="#d7d3e6"/>
<rect x="255.9" y="852.8" width="78.7" height="2" fill="#d4d0e4"/>
<rect x="255.9" y="854.4" width="78.7" height="1.6" fill="#d8d5e4"/>
<rect x="255.9" y="855.6" width="78.7" height="2.2" fill="#f6f5fa"/>
<rect x="255.9" y="857.4" width="78.7" height="1.7" fill="#e0cfd3"/>
<rect x="255.9" y="858.7" width="78.7" height="2.1" fill="#fafafa"/>
<rect x="255.9" y="860.4" width="78.7" height="2" fill="#d8d2ea"/>
<rect x="255.9" y="862" width="78.7" height="2.2" fill="#e1dded"/>
<rect x="255.9" y="863.8" width="78.7" height="2" fill="#ab9dde"/>
<rect x="255.9" y="865.4" width="78.7" height="2.4" fill="#ab9dde"/>
<rect x="255.9" y="867.4" width="78.7" height="2.2" fill="#d8d5e3"/>
<rect x="255.9" y="869.3" width="78.7" height="2" fill="#fce7ec"/>
<rect x="255.9" y="870.9" width="78.7" height="2.3" fill="#c1bbd7"/>
<rect x="255.9" y="872.7" width="78.7" height="1.8" fill="#c9c1e7"/>
<rect x="255.9" y="874.1" width="78.7" height="1.8" fill="#d7d1eb"/>
<rect x="255.9" y="875.5" width="78.7" height="1.8" fill="#b8aedc"/>
<rect x="255.9" y="876.8" width="78.7" height="2.3" fill="#cecdd2"/>
<rect x="255.9" y="878.7" width="78.7" height="2.4" fill="#c0bcd1"/>
<rect x="255.9" y="880.7" width="78.7" height="2.1" fill="#d3cfe2"/>
<rect x="255.9" y="882.4" width="78.7" height="2.4" fill="#e1d8dc"/>
<rect x="255.9" y="884.4" width="78.7" height="1.8" fill="#f4f4f4"/>
<rect x="255.9" y="885.8" width="78.7" height="1.7" fill="#eae9ea"/>
<rect x="255.9" y="887.1" width="78.7" height="2.4" fill="#c5bfda"/>
<rect x="255.9" y="889.1" width="78.7" height="2.2" fill="#dddbe6"/>
<rect x="255.9" y="890.9" width="78.7" height="1.9" fill="#c9c2e2"/>
<rect x="255.9" y="892.5" width="78.7" height="1.9" fill="#c8c2df"/>
<rect x="255.9" y="893.9" width="78.7" height="1.8" fill="#cfc7ea"/>
<rect x="255.9" y="895.3" width="78.7" height="2.2" fill="#b9b4ce"/>
<rect x="255.9" y="897.2" width="78.7" height="1.9" fill="#dcd7ec"/>
<rect x="255.9" y="898.7" width="78.7" height="1.9" fill="#f1e2e5"/>
<rect x="255.9" y="900.2" width="78.7" height="2.3" fill="#c6c0dc"/>
<rect x="255.9" y="902.1" width="78.7" height="1.6" fill="#eeedf3"/>
<rect x="255.9" y="903.3" width="78.7" height="2.4" fill="#dbd7e9"/>
<rect x="255.9" y="905.3" width="78.7" height="2" fill="#fdfbfb"/>
<rect x="255.9" y="906.9" width="78.7" height="2.5" fill="#eeedf3"/>
<rect x="255.9" y="908.9" width="78.7" height="1.6" fill="#d2cee2"/>
<rect x="255.9" y="910.1" width="78.7" height="1.7" fill="#ede9f4"/>
<rect x="255.9" y="911.4" width="78.7" height="1.7" fill="#bab1d9"/>
<rect x="255.9" y="912.7" width="78.7" height="2.2" fill="#c4beda"/>
<rect x="255.9" y="914.5" width="78.7" height="2.4" fill="#d7d2e8"/>
<rect x="255.9" y="916.6" width="78.7" height="1.6" fill="#c4bddb"/>
<rect x="255.9" y="917.8" width="78.7" height="1.6" fill="#f1eff5"/>
<rect x="255.9" y="919" width="78.7" height="1.9" fill="#e5e3ee"/>
<rect x="255.9" y="920.6" width="78.7" height="2.3" fill="#e7dee0"/>
<rect x="255.9" y="922.5" width="78.7" height="1.9" fill="#dad0d9"/>
<rect x="255.9" y="924" width="78.7" height="1.7" fill="#bbb2d8"/>
<rect x="255.9" y="925.3" width="78.7" height="1.5" fill="#eceaf2"/>
<rect x="255.9" y="926.4" width="78.7" height="1.6" fill="#d8d5e3"/>
<rect x="255.9" y="927.6" width="78.7" height="1.8" fill="#e0dbf1"/>
<rect x="255.9" y="929" width="78.7" height="2" fill="#d4ceea"/>
<rect x="255.9" y="930.6" width="78.7" height="1.9" fill="#dfdcea"/>
<rect x="255.9" y="932.1" width="78.7" height="1.6" fill="#d4cfe7"/>
<rect x="255.9" y="933.3" width="78.7" height="1.7" fill="#e7e5ee"/>
<rect x="255.9" y="934.6" width="78.7" height="2.2" fill="#ece4e4"/>
<rect x="255.9" y="936.4" width="78.7" height="2.1" fill="#d8d4e6"/>
<rect x="255.9" y="938.1" width="78.7" height="2.1" fill="#b1a4e0"/>
<rect x="255.9" y="939.8" width="78.7" height="1.6" fill="#b1a4e0"/>
<rect x="255.9" y="941" width="78.7" height="2.3" fill="#dad7e3"/>
<rect x="255.9" y="943" width="78.7" height="2.3" fill="#edebf4"/>
<rect x="255.9" y="944.9" width="78.7" height="1.6" fill="#d4cfe7"/>
<rect x="255.9" y="946" width="78.7" height="2.1" fill="#efe8e3"/>
<rect x="255.9" y="947.8" width="78.7" height="2.2" fill="#f5f3f8"/>
<rect x="255.9" y="949.6" width="78.7" height="2.3" fill="#dfdcea"/>
<rect x="255.9" y="951.5" width="78.7" height="1.6" fill="#d4d4d5"/>
<rect x="255.9" y="952.7" width="78.7" height="2.2" fill="#bcb8ce"/>
<rect x="255.9" y="954.5" width="78.7" height="2.1" fill="#d4cfe7"/>
<rect x="255.9" y="956.1" width="78.7" height="1.6" fill="#bbb5cf"/>
<rect x="255.9" y="957.4" width="78.7" height="2.2" fill="#d4d0e5"/>
<rect x="255.9" y="959.1" width="78.7" height="1.6" fill="#cdc7e0"/>
<rect x="255.9" y="960.4" width="78.7" height="1.7" fill="#ecebee"/>
<rect x="255.9" y="961.6" width="78.7" height="2.3" fill="#f5f3fa"/>
<rect x="255.9" y="963.6" width="78.7" height="2.2" fill="#e9e7f0"/>
<rect x="255.9" y="965.3" width="78.7" height="1.6" fill="#c9c3e1"/>
<rect x="255.9" y="966.5" width="78.7" height="2.1" fill="#ddd9ea"/>
<rect x="255.9" y="968.2" width="78.7" height="2.2" fill="#e3e2e6"/>
<rect x="255.9" y="970" width="78.7" height="2.1" fill="#ccc8dc"/>
<rect x="255.9" y="971.7" width="78.7" height="2.3" fill="#d7d5d6"/>
<rect x="255.9" y="973.6" width="78.7" height="2.1" fill="#fbf2f4"/>
<rect x="255.9" y="975.3" width="78.7" height="2.2" fill="#eee2e5"/>
<rect x="255.9" y="977.1" width="78.7" height="2.2" fill="#d5d3da"/>
<rect x="255.9" y="978.9" width="78.7" height="1.8" fill="#e0dde8"/>
<rect x="255.9" y="980.3" width="78.7" height="1.8" fill="#c4bfd8"/>
<rect x="255.9" y="981.7" width="78.7" height="2.1" fill="#cac2e5"/>
<rect x="255.9" y="983.4" width="78.7" height="2.3" fill="#d8d4e6"/>
<rect x="255.9" y="985.3" width="78.7" height="1.7" fill="#e1dcf1"/>
<rect x="255.9" y="986.6" width="78.7" height="2.1" fill="#d8d5e3"/>
<rect x="255.9" y="988.3" width="78.7" height="2.2" fill="#ddddde"/>
<rect x="255.9" y="990" width="78.7" height="2.5" fill="#ede5e8"/>
<rect x="255.9" y="992.1" width="78.7" height="1.5" fill="#beb4e3"/>
<rect x="255.9" y="993.2" width="78.7" height="2" fill="#d0ced9"/>
<rect x="255.9" y="994.8" width="78.7" height="2" fill="#f6f1f3"/>
<rect x="255.9" y="996.4" width="78.7" height="2" fill="#b9b0d7"/>
<rect x="255.9" y="998" width="78.7" height="1.8" fill="#aea0dd"/>
<rect x="255.9" y="999.5" width="78.7" height="2.3" fill="#d7d1e9"/>
<rect x="255.9" y="1001.4" width="78.7" height="2.1" fill="#a59bc7"/>
<rect x="255.9" y="1003.1" width="78.7" height="1.6" fill="#eee7de"/>
<rect x="255.9" y="1004.3" width="78.7" height="2.3" fill="#c8c0e5"/>
<rect x="255.9" y="1006.2" width="78.7" height="1.5" fill="#f5f5f8"/>
<rect x="255.9" y="1007.3" width="78.7" height="1.8" fill="#dbd9e6"/>
<rect x="255.9" y="1008.8" width="78.7" height="2" fill="#ececed"/>
<rect x="255.9" y="1010.4" width="78.7" height="1.7" fill="#edecf4"/>
<rect x="255.9" y="1011.7" width="78.7" height="1.7" fill="#c9c3df"/>
<rect x="255.9" y="1013" width="78.7" height="1.7" fill="#efeef4"/>
<rect x="255.9" y="1014.3" width="78.7" height="2.3" fill="#d2cee2"/>
<rect x="255.9" y="1016.2" width="78.7" height="1.9" fill="#e4e0f2"/>
<rect x="255.9" y="1017.7" width="78.7" height="1.9" fill="#efe6e8"/>
<rect x="255.9" y="1019.2" width="78.7" height="1.9" fill="#f2eeef"/>
<rect x="255.9" y="1020.7" width="78.7" height="1.5" fill="#cdc9dc"/>
<rect x="255.9" y="1021.8" width="78.7" height="1.7" fill="#bcb3db"/>
<rect x="255.9" y="1023.1" width="78.7" height="1.7" fill="#9a90be"/>
<rect x="255.9" y="1024.4" width="78.7" height="2.4" fill="#aa9ed4"/>
<rect x="255.9" y="1026.4" width="78.7" height="1.8" fill="#dbd3d3"/>
<rect x="255.9" y="1027.7" width="78.7" height="1.8" fill="#e6e4ee"/>
<rect x="255.9" y="1029.2" width="78.7" height="2.3" fill="#d7d2e2"/>
<rect x="255.9" y="1031" width="78.7" height="1.8" fill="#a59ad0"/>
<rect x="255.9" y="1032.4" width="78.7" height="2.1" fill="#f2edee"/>
<rect x="255.9" y="1034.1" width="78.7" height="2.3" fill="#eae2e4"/>
<rect x="255.9" y="1036" width="78.7" height="2.3" fill="#c1bece"/>
<rect x="255.9" y="1037.9" width="78.7" height="1.7" fill="#ddd9ea"/>
<rect x="255.9" y="1039.2" width="78.7" height="2" fill="#d5d2e1"/>
<rect x="255.9" y="1040.8" width="78.7" height="2.1" fill="#e4e2ea"/>
<rect x="255.9" y="1042.5" width="78.7" height="2.4" fill="#cbc4e2"/>
<rect x="255.9" y="1044.5" width="78.7" height="2.4" fill="#fbe5ea"/>
<rect x="255.9" y="1046.4" width="78.7" height="2" fill="#ccc8d9"/>
<rect x="255.9" y="1048.1" width="78.7" height="2.1" fill="#ead2d7"/>
<rect x="255.9" y="1049.7" width="78.7" height="1.9" fill="#d2cde6"/>
<rect x="255.9" y="1051.2" width="78.7" height="1.5" fill="#dad6eb"/>
<rect x="255.9" y="1052.3" width="78.7" height="1.6" fill="#ddd8f0"/>
<rect x="255.9" y="1053.5" width="78.7" height="1.9" fill="#f5f5f8"/>
<rect x="255.9" y="1055.1" width="78.7" height="1.8" fill="#d4cee7"/>
<rect x="255.9" y="1056.4" width="78.7" height="2" fill="#dcd9ea"/>
<rect x="255.9" y="1058" width="78.7" height="1.7" fill="#fdedf1"/>
<rect x="255.9" y="1059.3" width="78.7" height="2.2" fill="#c6bde5"/>
<rect x="255.9" y="1061.1" width="78.7" height="2.3" fill="#dfdde4"/>
<rect x="255.9" y="1063" width="78.7" height="1.8" fill="#cbc2e8"/>
<rect x="255.9" y="1064.5" width="78.7" height="1.6" fill="#dad4ee"/>
<rect x="255.9" y="1065.6" width="78.7" height="1.7" fill="#bcb2df"/>
<rect x="255.9" y="1066.9" width="78.7" height="2.2" fill="#f5f4f7"/>
<rect x="255.9" y="1068.8" width="78.7" height="2.1" fill="#d8d4e6"/>
<rect x="255.9" y="1070.4" width="78.7" height="1.5" fill="#f6e5e9"/>
<rect x="255.9" y="1071.6" width="78.7" height="2.2" fill="#7058c7"/>
<rect x="255.9" y="1073.4" width="78.7" height="2.2" fill="#7058c7"/>
<rect x="255.9" y="1075.1" width="78.7" height="2.4" fill="#b2a7d7"/>
<rect x="255.9" y="1077.2" width="78.7" height="2" fill="#d8d3e8"/>
<rect x="255.9" y="1078.8" width="78.7" height="2.2" fill="#e0dee8"/>
<rect x="255.9" y="1080.6" width="78.7" height="1.6" fill="#ece9f6"/>
<rect x="255.9" y="1081.8" width="78.7" height="1.9" fill="#ebe8f5"/>
<rect x="255.9" y="1083.3" width="78.7" height="1.9" fill="#bcb2df"/>
<rect x="255.9" y="1084.9" width="78.7" height="2.4" fill="#f1f1f2"/>
<rect x="255.9" y="1086.8" width="78.7" height="2.3" fill="#dbd8e6"/>
<rect x="255.9" y="1088.7" width="78.7" height="2.2" fill="#f7f3f4"/>
<rect x="255.9" y="1090.5" width="78.7" height="1.9" fill="#f6f3f9"/>
<rect x="255.9" y="1092.1" width="78.7" height="1.6" fill="#eae4e5"/>
<rect x="255.9" y="1093.2" width="78.7" height="2.1" fill="#cbc3e5"/>
<rect x="255.9" y="1094.9" width="78.7" height="1.6" fill="#d9d0d3"/>
<rect x="255.9" y="1096.1" width="78.7" height="1.6" fill="#dad7e1"/>
<rect x="255.9" y="1097.3" width="78.7" height="2" fill="#c6c0dc"/>
<rect x="255.9" y="1098.9" width="78.7" height="1.7" fill="#c8c1e0"/>
<rect x="255.9" y="1100.2" width="78.7" height="1.8" fill="#bdb4dc"/>
<rect x="255.9" y="1101.6" width="78.7" height="2" fill="#eeeeee"/>
<rect x="255.9" y="1103.1" width="78.7" height="2" fill="#d6d2e6"/>
<rect x="255.9" y="1104.7" width="78.7" height="2.5" fill="#c8bfe5"/>
<rect x="255.9" y="1106.7" width="78.7" height="2.2" fill="#d4cfe5"/>
<rect x="255.9" y="1108.5" width="78.7" height="1.7" fill="#c2bbdd"/>
<rect x="255.9" y="1109.9" width="78.7" height="1.5" fill="#e9e7f0"/>
<rect x="255.9" y="1111" width="78.7" height="1.9" fill="#d2cee0"/>
<rect x="255.9" y="1112.5" width="78.7" height="2.3" fill="#d0cae8"/>
<rect x="255.9" y="1114.4" width="78.7" height="2.2" fill="#d3cee7"/>
<rect x="255.9" y="1116.3" width="78.7" height="2.5" fill="#f7f1f3"/>
<rect x="255.9" y="1118.3" width="78.7" height="1.8" fill="#c9c3de"/>
<rect x="255.9" y="1119.7" width="78.7" height="2.4" fill="#c9c2e1"/>
<rect x="255.9" y="1121.7" width="78.7" height="2.1" fill="#dbd7ea"/>
<rect x="255.9" y="1123.4" width="78.7" height="1.9" fill="#d3cde8"/>
<rect x="255.9" y="1124.8" width="78.7" height="2.3" fill="#eae3e1"/>
<rect x="255.9" y="1126.8" width="78.7" height="1.9" fill="#d4ceeb"/>
<rect x="255.9" y="1128.2" width="78.7" height="1.8" fill="#d4d1dd"/>
<rect x="255.9" y="1129.6" width="78.7" height="1.8" fill="#c9c4d9"/>
<rect x="255.9" y="1131" width="78.7" height="1.7" fill="#beb4e3"/>
<rect x="255.9" y="1132.3" width="78.7" height="2" fill="#eae8f0"/>
<rect x="255.9" y="1133.9" width="78.7" height="2.5" fill="#dedce6"/>
<rect x="255.9" y="1135.9" width="78.7" height="1.8" fill="#e5e1f3"/>
<rect x="255.9" y="1137.4" width="78.7" height="1.7" fill="#dedde3"/>
<rect x="255.9" y="1138.7" width="78.7" height="1.7" fill="#d6d3e1"/>
<rect x="255.9" y="1140" width="78.7" height="1.6" fill="#d9cfd7"/>
<rect x="255.9" y="1141.2" width="78.7" height="1.9" fill="#d4d1e1"/>
<rect x="255.9" y="1142.7" width="78.7" height="1.5" fill="#d4cfe9"/>
<rect x="255.9" y="1143.8" width="78.7" height="1.8" fill="#d9d5e7"/>
<rect x="255.9" y="1145.2" width="78.7" height="1.8" fill="#cfced5"/>
<rect x="255.9" y="1146.6" width="78.7" height="1.8" fill="#f3edee"/>
<rect x="255.9" y="1148" width="78.7" height="2.4" fill="#c6bee3"/>
<rect x="255.9" y="1149.9" width="78.7" height="1.9" fill="#e8e6ef"/>
<rect x="255.9" y="1151.4" width="78.7" height="2.3" fill="#d8d0d2"/>
<rect x="255.9" y="1153.3" width="78.7" height="2.3" fill="#c3bdd7"/>
<rect x="255.9" y="1155.2" width="78.7" height="2.2" fill="#b8aeda"/>
<rect x="255.9" y="1157" width="78.7" height="2.4" fill="#d7d4e2"/>
<rect x="255.9" y="1158.9" width="78.7" height="2.5" fill="#dbd5ee"/>
<rect x="255.9" y="1161" width="78.7" height="2.5" fill="#d6c7cb"/>
<rect x="255.9" y="1163.1" width="78.7" height="2.1" fill="#f1eeef"/>
<rect x="255.9" y="1164.8" width="78.7" height="1.9" fill="#e1dcf1"/>
</g></g>
<g clip-path="url(#hc2)"><g filter="url(#vb)">
<rect x="177.3" y="1220.8" width="78.6" height="1.7" fill="#d7d2e9"/>
<rect x="177.3" y="1222.1" width="78.6" height="1.5" fill="#d0cfd3"/>
<rect x="177.3" y="1223.3" width="78.6" height="1.8" fill="#bfbad3"/>
<rect x="177.3" y="1224.7" width="78.6" height="2.3" fill="#9b91bd"/>
<rect x="177.3" y="1226.6" width="78.6" height="1.7" fill="#c4c0d3"/>
<rect x="177.3" y="1227.9" width="78.6" height="1.8" fill="#e0dadc"/>
<rect x="177.3" y="1229.3" width="78.6" height="2.4" fill="#e4e1f1"/>
<rect x="177.3" y="1231.3" width="78.6" height="2.2" fill="#e7e6ea"/>
<rect x="177.3" y="1233.1" width="78.6" height="2.4" fill="#b7b1cb"/>
<rect x="177.3" y="1235.1" width="78.6" height="2.3" fill="#9b8cd2"/>
<rect x="177.3" y="1237" width="78.6" height="2.2" fill="#cdc7e2"/>
<rect x="177.3" y="1238.9" width="78.6" height="1.6" fill="#e2e0ea"/>
<rect x="177.3" y="1240" width="78.6" height="2.1" fill="#d3cee6"/>
<rect x="177.3" y="1241.7" width="78.6" height="2.1" fill="#dbd9e4"/>
<rect x="177.3" y="1243.4" width="78.6" height="1.6" fill="#eeedf2"/>
<rect x="177.3" y="1244.5" width="78.6" height="2.3" fill="#c7c1dd"/>
<rect x="177.3" y="1246.4" width="78.6" height="1.6" fill="#e7e0dc"/>
<rect x="177.3" y="1247.5" width="78.6" height="2.3" fill="#a096c0"/>
<rect x="177.3" y="1249.5" width="78.6" height="1.7" fill="#d5d1e3"/>
<rect x="177.3" y="1250.8" width="78.6" height="2" fill="#d9d5e9"/>
<rect x="177.3" y="1252.4" width="78.6" height="2" fill="#ddd6d4"/>
<rect x="177.3" y="1254" width="78.6" height="2.4" fill="#cec7ea"/>
<rect x="177.3" y="1255.9" width="78.6" height="1.9" fill="#dcd1de"/>
<rect x="177.3" y="1257.4" width="78.6" height="1.8" fill="#f4f4f6"/>
<rect x="177.3" y="1258.8" width="78.6" height="1.7" fill="#dbd8e4"/>
<rect x="177.3" y="1260.1" width="78.6" height="2.2" fill="#c9c0e8"/>
<rect x="177.3" y="1262" width="78.6" height="2.1" fill="#aea2da"/>
<rect x="177.3" y="1263.6" width="78.6" height="1.7" fill="#e7e4eb"/>
<rect x="177.3" y="1264.9" width="78.6" height="2.1" fill="#dddbe6"/>
<rect x="177.3" y="1266.6" width="78.6" height="2.3" fill="#d7d2ea"/>
<rect x="177.3" y="1268.6" width="78.6" height="2.3" fill="#ebe5de"/>
<rect x="177.3" y="1270.5" width="78.6" height="1.5" fill="#eeebf4"/>
<rect x="177.3" y="1271.6" width="78.6" height="2.2" fill="#f1f0f7"/>
<rect x="177.3" y="1273.4" width="78.6" height="1.9" fill="#e8e5f2"/>
<rect x="177.3" y="1274.9" width="78.6" height="2.2" fill="#ecebec"/>
<rect x="177.3" y="1276.7" width="78.6" height="1.7" fill="#cdcada"/>
<rect x="177.3" y="1278" width="78.6" height="2.2" fill="#bab6ca"/>
<rect x="177.3" y="1279.8" width="78.6" height="2.3" fill="#b9b0da"/>
<rect x="177.3" y="1281.7" width="78.6" height="2.1" fill="#dcd8e3"/>
<rect x="177.3" y="1283.4" width="78.6" height="2" fill="#e8e7ec"/>
<rect x="177.3" y="1285" width="78.6" height="2.2" fill="#8e7bd2"/>
<rect x="177.3" y="1286.8" width="78.6" height="2.2" fill="#8e7bd2"/>
<rect x="177.3" y="1288.6" width="78.6" height="1.5" fill="#d4cfe7"/>
<rect x="177.3" y="1289.7" width="78.6" height="1.6" fill="#f4f2f9"/>
<rect x="177.3" y="1290.9" width="78.6" height="1.8" fill="#d4cfe5"/>
<rect x="177.3" y="1292.3" width="78.6" height="2" fill="#ece4e4"/>
<rect x="177.3" y="1293.9" width="78.6" height="1.9" fill="#c8c6d1"/>
<rect x="177.3" y="1295.4" width="78.6" height="2.1" fill="#bbb2db"/>
<rect x="177.3" y="1297.1" width="78.6" height="1.7" fill="#d7d3e3"/>
<rect x="177.3" y="1298.4" width="78.6" height="2.4" fill="#cac5df"/>
<rect x="177.3" y="1300.4" width="78.6" height="2.1" fill="#e5e4e9"/>
<rect x="177.3" y="1302.1" width="78.6" height="1.6" fill="#eeebf6"/>
<rect x="177.3" y="1303.3" width="78.6" height="1.7" fill="#e2e0e9"/>
<rect x="177.3" y="1304.6" width="78.6" height="1.7" fill="#dbd5ef"/>
<rect x="177.3" y="1305.9" width="78.6" height="1.8" fill="#a296cd"/>
<rect x="177.3" y="1307.4" width="78.6" height="1.7" fill="#b7aed8"/>
<rect x="177.3" y="1308.6" width="78.6" height="1.8" fill="#eae9ed"/>
<rect x="177.3" y="1310" width="78.6" height="2.2" fill="#a39bc1"/>
<rect x="177.3" y="1311.8" width="78.6" height="2.3" fill="#c9c3e1"/>
<rect x="177.3" y="1313.7" width="78.6" height="2.5" fill="#c7c0e3"/>
<rect x="177.3" y="1315.8" width="78.6" height="2.3" fill="#aca1d6"/>
<rect x="177.3" y="1317.7" width="78.6" height="1.9" fill="#d0cbe3"/>
<rect x="177.3" y="1319.1" width="78.6" height="2.3" fill="#afa4d6"/>
<rect x="177.3" y="1321.1" width="78.6" height="1.8" fill="#dfdbf0"/>
<rect x="177.3" y="1322.4" width="78.6" height="1.9" fill="#ede9f5"/>
<rect x="177.3" y="1323.9" width="78.6" height="1.8" fill="#c1b9dd"/>
<rect x="177.3" y="1325.3" width="78.6" height="1.7" fill="#efe8e4"/>
<rect x="177.3" y="1326.6" width="78.6" height="2.1" fill="#d2ccdf"/>
<rect x="177.3" y="1328.3" width="78.6" height="2.3" fill="#d1cbe7"/>
<rect x="177.3" y="1330.2" width="78.6" height="1.6" fill="#d5d0e5"/>
<rect x="177.3" y="1331.4" width="78.6" height="2.4" fill="#c2bbda"/>
<rect x="177.3" y="1333.3" width="78.6" height="1.6" fill="#d4d1e0"/>
<rect x="177.3" y="1334.5" width="78.6" height="2.4" fill="#cfc9e4"/>
<rect x="177.3" y="1336.5" width="78.6" height="2.2" fill="#eeedf1"/>
<rect x="177.3" y="1338.3" width="78.6" height="2.2" fill="#b9b1d7"/>
<rect x="177.3" y="1340.1" width="78.6" height="1.6" fill="#f1e1e4"/>
<rect x="177.3" y="1341.2" width="78.6" height="2.1" fill="#faf6f7"/>
<rect x="177.3" y="1342.9" width="78.6" height="1.5" fill="#c6c0db"/>
<rect x="177.3" y="1344" width="78.6" height="2.3" fill="#bcb3dd"/>
<rect x="177.3" y="1345.9" width="78.6" height="2" fill="#d1d0d4"/>
<rect x="177.3" y="1347.4" width="78.6" height="2" fill="#d5ceeb"/>
<rect x="177.3" y="1349.1" width="78.6" height="1.7" fill="#998cc6"/>
<rect x="177.3" y="1350.3" width="78.6" height="2.4" fill="#c6c3d1"/>
<rect x="177.3" y="1352.3" width="78.6" height="2.4" fill="#cec9e1"/>
<rect x="177.3" y="1354.3" width="78.6" height="2.2" fill="#bcb3dd"/>
<rect x="177.3" y="1356.2" width="78.6" height="2" fill="#b3a8da"/>
<rect x="177.3" y="1357.7" width="78.6" height="1.6" fill="#bfbccc"/>
<rect x="177.3" y="1358.9" width="78.6" height="2.4" fill="#c9c2e0"/>
<rect x="177.3" y="1360.9" width="78.6" height="1.7" fill="#b0a6d4"/>
<rect x="177.3" y="1362.1" width="78.6" height="1.5" fill="#dfd8ef"/>
<rect x="177.3" y="1363.3" width="78.6" height="1.7" fill="#e8e7ec"/>
<rect x="177.3" y="1364.6" width="78.6" height="1.9" fill="#d4cdea"/>
<rect x="177.3" y="1366" width="78.6" height="2.1" fill="#bfb9d8"/>
<rect x="177.3" y="1367.7" width="78.6" height="2.3" fill="#e9e6f3"/>
<rect x="177.3" y="1369.6" width="78.6" height="1.7" fill="#bab2d6"/>
<rect x="177.3" y="1370.9" width="78.6" height="1.8" fill="#f3f0f7"/>
<rect x="177.3" y="1372.4" width="78.6" height="1.8" fill="#d8d1e7"/>
<rect x="177.3" y="1373.7" width="78.6" height="1.9" fill="#dbd2d9"/>
<rect x="177.3" y="1375.2" width="78.6" height="2.2" fill="#ebe7f0"/>
<rect x="177.3" y="1377" width="78.6" height="1.8" fill="#dcd4d4"/>
<rect x="177.3" y="1378.4" width="78.6" height="2.4" fill="#d4d1e0"/>
<rect x="177.3" y="1380.4" width="78.6" height="2.3" fill="#c6bee4"/>
<rect x="177.3" y="1382.2" width="78.6" height="2.3" fill="#afa3da"/>
<rect x="177.3" y="1384.1" width="78.6" height="2" fill="#e1daf0"/>
<rect x="177.3" y="1385.7" width="78.6" height="2.2" fill="#b1a8d3"/>
<rect x="177.3" y="1387.6" width="78.6" height="1.9" fill="#c6bfdc"/>
<rect x="177.3" y="1389.1" width="78.6" height="2" fill="#b7aed4"/>
<rect x="177.3" y="1390.7" width="78.6" height="2.2" fill="#b6aed5"/>
<rect x="177.3" y="1392.5" width="78.6" height="2.2" fill="#e4e4e7"/>
<rect x="177.3" y="1394.3" width="78.6" height="1.8" fill="#eae3e5"/>
<rect x="177.3" y="1395.7" width="78.6" height="1.8" fill="#cec9e3"/>
<rect x="177.3" y="1397.1" width="78.6" height="1.9" fill="#b9aee1"/>
<rect x="177.3" y="1398.7" width="78.6" height="1.7" fill="#e8e6f0"/>
<rect x="177.3" y="1400" width="78.6" height="2.5" fill="#bcb8cd"/>
<rect x="177.3" y="1402.1" width="78.6" height="2.3" fill="#ddd8ee"/>
<rect x="177.3" y="1404" width="78.6" height="1.8" fill="#f7edf0"/>
<rect x="177.3" y="1405.4" width="78.6" height="2.2" fill="#c0b7df"/>
<rect x="177.3" y="1407.2" width="78.6" height="1.8" fill="#c6bfdd"/>
<rect x="177.3" y="1408.6" width="78.6" height="2.4" fill="#d4cdeb"/>
<rect x="177.3" y="1410.7" width="78.6" height="2.1" fill="#f3ede6"/>
<rect x="177.3" y="1412.4" width="78.6" height="1.6" fill="#c9c0e9"/>
<rect x="177.3" y="1413.5" width="78.6" height="2.2" fill="#dad3ec"/>
<rect x="177.3" y="1415.3" width="78.6" height="2.4" fill="#a89dd1"/>
<rect x="177.3" y="1417.3" width="78.6" height="2.2" fill="#b9b3ce"/>
<rect x="177.3" y="1419.1" width="78.6" height="1.7" fill="#eeecf6"/>
<rect x="177.3" y="1420.4" width="78.6" height="1.5" fill="#c2bae1"/>
<rect x="177.3" y="1421.5" width="78.6" height="1.8" fill="#d5d3dc"/>
<rect x="177.3" y="1423" width="78.6" height="2.2" fill="#bfb5e2"/>
<rect x="177.3" y="1424.7" width="78.6" height="2" fill="#a090d9"/>
<rect x="177.3" y="1426.3" width="78.6" height="1.9" fill="#a090d9"/>
<rect x="177.3" y="1427.8" width="78.6" height="2.3" fill="#a192d8"/>
<rect x="177.3" y="1429.7" width="78.6" height="1.5" fill="#e3e1eb"/>
<rect x="177.3" y="1430.8" width="78.6" height="2.2" fill="#d9d6e3"/>
<rect x="177.3" y="1432.6" width="78.6" height="1.9" fill="#bfb7da"/>
<rect x="177.3" y="1434.2" width="78.6" height="1.7" fill="#d5d1e4"/>
<rect x="177.3" y="1435.5" width="78.6" height="2" fill="#d6d5d9"/>
<rect x="177.3" y="1437.1" width="78.6" height="2.3" fill="#bbb0e1"/>
<rect x="177.3" y="1439" width="78.6" height="1.6" fill="#fbfafc"/>
<rect x="177.3" y="1440.2" width="78.6" height="1.7" fill="#beb7d9"/>
<rect x="177.3" y="1441.5" width="78.6" height="2" fill="#e9d1d7"/>
<rect x="177.3" y="1443.1" width="78.6" height="1.8" fill="#dedce8"/>
<rect x="177.3" y="1444.4" width="78.6" height="2.4" fill="#d2cee3"/>
<rect x="177.3" y="1446.4" width="78.6" height="1.6" fill="#c7c1da"/>
<rect x="177.3" y="1447.6" width="78.6" height="2.2" fill="#cbc6dd"/>
<rect x="177.3" y="1449.4" width="78.6" height="2.3" fill="#dad1d5"/>
<rect x="177.3" y="1451.3" width="78.6" height="2" fill="#bab3d2"/>
<rect x="177.3" y="1453" width="78.6" height="1.8" fill="#bab1dd"/>
<rect x="177.3" y="1454.4" width="78.6" height="1.8" fill="#a697dc"/>
<rect x="177.3" y="1455.8" width="78.6" height="1.5" fill="#e7e2f1"/>
<rect x="177.3" y="1456.9" width="78.6" height="1.7" fill="#eeecf7"/>
<rect x="177.3" y="1458.2" width="78.6" height="1.7" fill="#d0ced8"/>
<rect x="177.3" y="1459.5" width="78.6" height="1.9" fill="#d4cfe7"/>
<rect x="177.3" y="1461" width="78.6" height="1.5" fill="#a99fcb"/>
<rect x="177.3" y="1462.2" width="78.6" height="2.2" fill="#b2a8d4"/>
<rect x="177.3" y="1463.9" width="78.6" height="2.4" fill="#b8b2cd"/>
<rect x="177.3" y="1465.9" width="78.6" height="1.6" fill="#e9e5f0"/>
<rect x="177.3" y="1467.1" width="78.6" height="1.9" fill="#f3f0f6"/>
<rect x="177.3" y="1468.6" width="78.6" height="2" fill="#dad7e6"/>
<rect x="177.3" y="1470.2" width="78.6" height="1.8" fill="#d3d1da"/>
<rect x="177.3" y="1471.6" width="78.6" height="2.2" fill="#c7c0dd"/>
<rect x="177.3" y="1473.4" width="78.6" height="1.8" fill="#e1d8dc"/>
<rect x="177.3" y="1474.8" width="78.6" height="1.6" fill="#c8c1e0"/>
<rect x="177.3" y="1476" width="78.6" height="1.7" fill="#9084b9"/>
<rect x="177.3" y="1477.3" width="78.6" height="1.6" fill="#b5acd5"/>
<rect x="177.3" y="1478.5" width="78.6" height="1.7" fill="#f2f1f6"/>
<rect x="177.3" y="1479.7" width="78.6" height="1.7" fill="#d6d3e1"/>
<rect x="177.3" y="1481" width="78.6" height="2.2" fill="#c5bce5"/>
<rect x="177.3" y="1482.8" width="78.6" height="2.3" fill="#d8d6de"/>
<rect x="177.3" y="1484.7" width="78.6" height="2.5" fill="#f1eff8"/>
<rect x="177.3" y="1486.7" width="78.6" height="2.4" fill="#c5bfdb"/>
<rect x="177.3" y="1488.7" width="78.6" height="2.4" fill="#c9c3dc"/>
<rect x="177.3" y="1490.7" width="78.6" height="1.6" fill="#e5e1f2"/>
<rect x="177.3" y="1491.9" width="78.6" height="1.9" fill="#dfdce9"/>
<rect x="177.3" y="1493.5" width="78.6" height="2" fill="#c5c1d3"/>
<rect x="177.3" y="1495" width="78.6" height="2.3" fill="#aea4d3"/>
<rect x="177.3" y="1497" width="78.6" height="2.3" fill="#b4abd4"/>
<rect x="177.3" y="1498.9" width="78.6" height="1.9" fill="#cdc1d3"/>
<rect x="177.3" y="1500.4" width="78.6" height="2.1" fill="#dfd8d4"/>
<rect x="177.3" y="1502.1" width="78.6" height="1.5" fill="#9489ba"/>
<rect x="177.3" y="1503.2" width="78.6" height="1.8" fill="#a99ed3"/>
<rect x="177.3" y="1504.6" width="78.6" height="1.8" fill="#c1b8e1"/>
<rect x="177.3" y="1506" width="78.6" height="1.9" fill="#cfc9e6"/>
<rect x="177.3" y="1507.4" width="78.6" height="1.6" fill="#d7d4e2"/>
<rect x="177.3" y="1508.6" width="78.6" height="1.7" fill="#cdc5e9"/>
<rect x="177.3" y="1509.9" width="78.6" height="2.3" fill="#d8d4ea"/>
<rect x="177.3" y="1511.8" width="78.6" height="1.8" fill="#e8e5f0"/>
<rect x="177.3" y="1513.3" width="78.6" height="2.2" fill="#d6d1e6"/>
<rect x="177.3" y="1515.1" width="78.6" height="2" fill="#cdc6e6"/>
<rect x="177.3" y="1516.7" width="78.6" height="2.1" fill="#e1dcf1"/>
<rect x="177.3" y="1518.4" width="78.6" height="1.8" fill="#bbb3d8"/>
<rect x="177.3" y="1519.8" width="78.6" height="1.6" fill="#e0dce5"/>
<rect x="177.3" y="1521" width="78.6" height="2" fill="#efeef3"/>
<rect x="177.3" y="1522.6" width="78.6" height="2.1" fill="#e1dfe8"/>
<rect x="177.3" y="1524.3" width="78.6" height="2.1" fill="#d7d2eb"/>
<rect x="177.3" y="1526" width="78.6" height="1.9" fill="#d6d3e3"/>
<rect x="177.3" y="1527.5" width="78.6" height="2.5" fill="#ded8ec"/>
<rect x="177.3" y="1529.5" width="78.6" height="1.5" fill="#b6abdf"/>
<rect x="177.3" y="1530.7" width="78.6" height="2.2" fill="#b6abdd"/>
<rect x="177.3" y="1532.5" width="78.6" height="1.6" fill="#b2a5df"/>
<rect x="177.3" y="1533.7" width="78.6" height="1.7" fill="#bbb4d5"/>
<rect x="177.3" y="1535" width="78.6" height="2.2" fill="#dbd9e4"/>
<rect x="177.3" y="1536.8" width="78.6" height="1.5" fill="#d4cfe8"/>
<rect x="177.3" y="1537.9" width="78.6" height="1.7" fill="#dcdae5"/>
<rect x="177.3" y="1539.2" width="78.6" height="2" fill="#bdb5db"/>
<rect x="177.3" y="1540.8" width="78.6" height="2.1" fill="#dddce4"/>
<rect x="177.3" y="1542.5" width="78.6" height="2" fill="#d9d5e8"/>
<rect x="177.3" y="1544" width="78.6" height="2.1" fill="#f1f0f6"/>
<rect x="177.3" y="1545.7" width="78.6" height="1.7" fill="#cdc7e0"/>
<rect x="177.3" y="1547.1" width="78.6" height="1.9" fill="#c0b8db"/>
<rect x="177.3" y="1548.6" width="78.6" height="1.9" fill="#dedbeb"/>
<rect x="177.3" y="1550.2" width="78.6" height="2.4" fill="#dcd6e8"/>
<rect x="177.3" y="1552.2" width="78.6" height="2.3" fill="#c2bed3"/>
<rect x="177.3" y="1554.1" width="78.6" height="1.5" fill="#beb9cf"/>
<rect x="177.3" y="1555.2" width="78.6" height="2.4" fill="#b3a7df"/>
<rect x="177.3" y="1557.3" width="78.6" height="1.8" fill="#d1cdde"/>
<rect x="177.3" y="1558.6" width="78.6" height="1.7" fill="#e2dcef"/>
<rect x="177.3" y="1560" width="78.6" height="1.8" fill="#dedbe7"/>
<rect x="177.3" y="1561.3" width="78.6" height="2.1" fill="#9280d3"/>
<rect x="177.3" y="1563" width="78.6" height="2" fill="#e2dadb"/>
<rect x="177.3" y="1564.6" width="78.6" height="1.6" fill="#baafe4"/>
<rect x="177.3" y="1565.8" width="78.6" height="2.5" fill="#a595db"/>
<rect x="177.3" y="1567.9" width="78.6" height="2.3" fill="#b5a9e2"/>
<rect x="177.3" y="1569.7" width="78.6" height="1.8" fill="#aa9bdd"/>
<rect x="177.3" y="1571.1" width="78.6" height="2.3" fill="#aa9cdd"/>
<rect x="177.3" y="1573" width="78.6" height="2" fill="#b9ade3"/>
<rect x="177.3" y="1574.6" width="78.6" height="2" fill="#a394db"/>
<rect x="177.3" y="1576.2" width="78.6" height="2.2" fill="#b9ade3"/>
<rect x="177.3" y="1578" width="78.6" height="1.8" fill="#aa9cdd"/>
<rect x="177.3" y="1579.4" width="78.6" height="1.7" fill="#b1a3e0"/>
<rect x="177.3" y="1580.7" width="78.6" height="1.5" fill="#b1a4e0"/>
<rect x="177.3" y="1581.8" width="78.6" height="2.3" fill="#dbd7eb"/>
<rect x="177.3" y="1583.7" width="78.6" height="1.7" fill="#e7e5ef"/>
<rect x="177.3" y="1585" width="78.6" height="0.5" fill="#c2b9e4"/>
<rect x="255.9" y="1220.8" width="78.7" height="2.4" fill="#f7a7b9"/>
<rect x="255.9" y="1222.8" width="78.7" height="1.8" fill="#f5b5c4"/>
<rect x="255.9" y="1224.1" width="78.7" height="2.1" fill="#f7dde3"/>
<rect x="255.9" y="1225.8" width="78.7" height="1.8" fill="#f5d6dd"/>
<rect x="255.9" y="1227.3" width="78.7" height="2.3" fill="#f1b8c5"/>
<rect x="255.9" y="1229.1" width="78.7" height="2.1" fill="#f4e1e5"/>
<rect x="255.9" y="1230.9" width="78.7" height="1.9" fill="#fcbbca"/>
<rect x="255.9" y="1232.3" width="78.7" height="2.4" fill="#e89aab"/>
<rect x="255.9" y="1234.3" width="78.7" height="1.6" fill="#f9e2e7"/>
<rect x="255.9" y="1235.5" width="78.7" height="1.7" fill="#f2ccd4"/>
<rect x="255.9" y="1236.8" width="78.7" height="1.8" fill="#e9c4cc"/>
<rect x="255.9" y="1238.2" width="78.7" height="2.1" fill="#f7d4dc"/>
<rect x="255.9" y="1239.9" width="78.7" height="2.4" fill="#f5c9d3"/>
<rect x="255.9" y="1241.8" width="78.7" height="2.2" fill="#ec92a7"/>
<rect x="255.9" y="1243.6" width="78.7" height="2.1" fill="#f2b6c4"/>
<rect x="255.9" y="1245.3" width="78.7" height="1.9" fill="#efddd7"/>
<rect x="255.9" y="1246.8" width="78.7" height="2" fill="#f5d3da"/>
<rect x="255.9" y="1248.4" width="78.7" height="1.8" fill="#edbdc8"/>
<rect x="255.9" y="1249.8" width="78.7" height="2.2" fill="#dbafb9"/>
<rect x="255.9" y="1251.6" width="78.7" height="1.8" fill="#eacbd2"/>
<rect x="255.9" y="1253" width="78.7" height="1.9" fill="#fbd5de"/>
<rect x="255.9" y="1254.5" width="78.7" height="2.3" fill="#f7ccd7"/>
<rect x="255.9" y="1256.4" width="78.7" height="1.9" fill="#eee4e8"/>
<rect x="255.9" y="1257.9" width="78.7" height="1.9" fill="#e7e7e9"/>
<rect x="255.9" y="1259.4" width="78.7" height="1.7" fill="#f1dbe0"/>
<rect x="255.9" y="1260.7" width="78.7" height="1.8" fill="#ff9bb1"/>
<rect x="255.9" y="1262.2" width="78.7" height="2.4" fill="#ff9bb1"/>
<rect x="255.9" y="1264.2" width="78.7" height="2.2" fill="#d9b1ba"/>
<rect x="255.9" y="1266" width="78.7" height="1.8" fill="#f8ccd6"/>
<rect x="255.9" y="1267.3" width="78.7" height="1.6" fill="#ddbac2"/>
<rect x="255.9" y="1268.6" width="78.7" height="2.3" fill="#e8dfe1"/>
<rect x="255.9" y="1270.4" width="78.7" height="1.9" fill="#f3c9d2"/>
<rect x="255.9" y="1271.9" width="78.7" height="1.6" fill="#f39eb1"/>
<rect x="255.9" y="1273.1" width="78.7" height="2.1" fill="#f1dfe3"/>
<rect x="255.9" y="1274.8" width="78.7" height="1.6" fill="#f2d2d9"/>
<rect x="255.9" y="1276" width="78.7" height="2.3" fill="#f1e5e9"/>
<rect x="255.9" y="1277.8" width="78.7" height="1.6" fill="#fca5b9"/>
<rect x="255.9" y="1279" width="78.7" height="2.2" fill="#f0bac6"/>
<rect x="255.9" y="1280.8" width="78.7" height="1.8" fill="#f1d2d9"/>
<rect x="255.9" y="1282.2" width="78.7" height="1.6" fill="#ddbac2"/>
<rect x="255.9" y="1283.4" width="78.7" height="2.1" fill="#f0c8d1"/>
<rect x="255.9" y="1285.1" width="78.7" height="2.2" fill="#ffebef"/>
<rect x="255.9" y="1286.9" width="78.7" height="2.3" fill="#e1dfe0"/>
<rect x="255.9" y="1288.9" width="78.7" height="2.1" fill="#ebe2e4"/>
<rect x="255.9" y="1290.6" width="78.7" height="2.3" fill="#fad9e1"/>
<rect x="255.9" y="1292.5" width="78.7" height="1.7" fill="#f2beca"/>
<rect x="255.9" y="1293.8" width="78.7" height="1.8" fill="#e0b9c2"/>
<rect x="255.9" y="1295.2" width="78.7" height="1.8" fill="#fcbac9"/>
<rect x="255.9" y="1296.5" width="78.7" height="2" fill="#e9c5cd"/>
<rect x="255.9" y="1298.1" width="78.7" height="2.2" fill="#ebd7db"/>
<rect x="255.9" y="1299.9" width="78.7" height="2.1" fill="#f7dce3"/>
<rect x="255.9" y="1301.6" width="78.7" height="1.6" fill="#f1eef2"/>
<rect x="255.9" y="1302.8" width="78.7" height="2.3" fill="#ebc9c7"/>
<rect x="255.9" y="1304.7" width="78.7" height="1.7" fill="#d6cfd0"/>
<rect x="255.9" y="1306" width="78.7" height="2.3" fill="#fdced9"/>
<rect x="255.9" y="1307.9" width="78.7" height="2.1" fill="#faabbd"/>
<rect x="255.9" y="1309.5" width="78.7" height="2" fill="#f5aebe"/>
<rect x="255.9" y="1311.1" width="78.7" height="2.1" fill="#fbbecc"/>
<rect x="255.9" y="1312.8" width="78.7" height="1.5" fill="#f4e6e9"/>
<rect x="255.9" y="1314" width="78.7" height="2.2" fill="#ecbac5"/>
<rect x="255.9" y="1315.8" width="78.7" height="1.9" fill="#e9c3cc"/>
<rect x="255.9" y="1317.3" width="78.7" height="2.2" fill="#d9a7b2"/>
<rect x="255.9" y="1319.1" width="78.7" height="1.8" fill="#ebd8de"/>
<rect x="255.9" y="1320.5" width="78.7" height="1.5" fill="#e9e4e5"/>
<rect x="255.9" y="1321.7" width="78.7" height="2" fill="#ddc7cc"/>
<rect x="255.9" y="1323.3" width="78.7" height="2.1" fill="#edd2d8"/>
<rect x="255.9" y="1325" width="78.7" height="1.7" fill="#f3f0f1"/>
<rect x="255.9" y="1326.3" width="78.7" height="2.5" fill="#f5d0d8"/>
<rect x="255.9" y="1328.4" width="78.7" height="1.7" fill="#fcc0cd"/>
<rect x="255.9" y="1329.6" width="78.7" height="2" fill="#d5bec4"/>
<rect x="255.9" y="1331.3" width="78.7" height="1.8" fill="#f88da5"/>
<rect x="255.9" y="1332.7" width="78.7" height="2.4" fill="#e8acb9"/>
<rect x="255.9" y="1334.7" width="78.7" height="1.8" fill="#d5b4bb"/>
<rect x="255.9" y="1336.2" width="78.7" height="2.4" fill="#e3a8b5"/>
<rect x="255.9" y="1338.2" width="78.7" height="2.3" fill="#e8dfe2"/>
<rect x="255.9" y="1340.1" width="78.7" height="1.9" fill="#e3d1d5"/>
<rect x="255.9" y="1341.6" width="78.7" height="1.6" fill="#f4b8c6"/>
<rect x="255.9" y="1342.8" width="78.7" height="1.9" fill="#f5b5c3"/>
<rect x="255.9" y="1344.3" width="78.7" height="1.6" fill="#f5dae0"/>
<rect x="255.9" y="1345.5" width="78.7" height="2" fill="#d697a5"/>
<rect x="255.9" y="1347" width="78.7" height="2" fill="#f8dde5"/>
<rect x="255.9" y="1348.7" width="78.7" height="2.3" fill="#f7e5ea"/>
<rect x="255.9" y="1350.6" width="78.7" height="2.4" fill="#dcb1bb"/>
<rect x="255.9" y="1352.6" width="78.7" height="1.7" fill="#ebb2bf"/>
<rect x="255.9" y="1353.9" width="78.7" height="2.1" fill="#fac9d4"/>
<rect x="255.9" y="1355.6" width="78.7" height="2.3" fill="#f5c3ce"/>
<rect x="255.9" y="1357.5" width="78.7" height="2.1" fill="#d4abb4"/>
<rect x="255.9" y="1359.2" width="78.7" height="1.6" fill="#e794a6"/>
<rect x="255.9" y="1360.4" width="78.7" height="1.5" fill="#e9d7db"/>
<rect x="255.9" y="1361.5" width="78.7" height="1.5" fill="#fcedf0"/>
<rect x="255.9" y="1362.7" width="78.7" height="2" fill="#f8c8d3"/>
<rect x="255.9" y="1364.3" width="78.7" height="2.2" fill="#ead0d6"/>
<rect x="255.9" y="1366.1" width="78.7" height="1.8" fill="#f9f8fa"/>
<rect x="255.9" y="1367.4" width="78.7" height="2.2" fill="#f4d0d8"/>
<rect x="255.9" y="1369.2" width="78.7" height="2" fill="#d9d6e4"/>
<rect x="255.9" y="1370.9" width="78.7" height="1.8" fill="#d7c1c6"/>
<rect x="255.9" y="1372.3" width="78.7" height="1.9" fill="#e1d1d5"/>
<rect x="255.9" y="1373.8" width="78.7" height="1.6" fill="#f3eeef"/>
<rect x="255.9" y="1375" width="78.7" height="2.5" fill="#f6c9d3"/>
<rect x="255.9" y="1377.1" width="78.7" height="2.5" fill="#f9cdd7"/>
<rect x="255.9" y="1379.2" width="78.7" height="1.7" fill="#e8e5ef"/>
<rect x="255.9" y="1380.5" width="78.7" height="2.4" fill="#f59eb1"/>
<rect x="255.9" y="1382.5" width="78.7" height="1.8" fill="#fbecf1"/>
<rect x="255.9" y="1383.9" width="78.7" height="2.1" fill="#eec0ca"/>
<rect x="255.9" y="1385.6" width="78.7" height="1.7" fill="#f2e0e6"/>
<rect x="255.9" y="1386.9" width="78.7" height="2.2" fill="#fdcdd7"/>
<rect x="255.9" y="1388.7" width="78.7" height="2" fill="#f8cfd9"/>
<rect x="255.9" y="1390.3" width="78.7" height="1.8" fill="#c8c5d0"/>
<rect x="255.9" y="1391.8" width="78.7" height="2.4" fill="#f9c9d3"/>
<rect x="255.9" y="1393.8" width="78.7" height="2.2" fill="#f8dae3"/>
<rect x="255.9" y="1395.6" width="78.7" height="1.6" fill="#f2e1e7"/>
<rect x="255.9" y="1396.8" width="78.7" height="2.1" fill="#eaa2b2"/>
<rect x="255.9" y="1398.5" width="78.7" height="1.9" fill="#fbc0cd"/>
<rect x="255.9" y="1400" width="78.7" height="1.7" fill="#ecd4d9"/>
<rect x="255.9" y="1401.2" width="78.7" height="1.9" fill="#d98d9e"/>
<rect x="255.9" y="1402.7" width="78.7" height="1.6" fill="#e0b8c1"/>
<rect x="255.9" y="1403.9" width="78.7" height="2" fill="#f3c5cf"/>
<rect x="255.9" y="1405.5" width="78.7" height="2.4" fill="#e2cbd0"/>
<rect x="255.9" y="1407.5" width="78.7" height="1.7" fill="#f1c1cc"/>
<rect x="255.9" y="1408.8" width="78.7" height="2" fill="#f8e8ed"/>
<rect x="255.9" y="1410.4" width="78.7" height="2" fill="#ecc5ce"/>
<rect x="255.9" y="1411.9" width="78.7" height="1.6" fill="#e4bbc4"/>
<rect x="255.9" y="1413.1" width="78.7" height="2.4" fill="#f3bcc8"/>
<rect x="255.9" y="1415.1" width="78.7" height="2.3" fill="#dab0b9"/>
<rect x="255.9" y="1417" width="78.7" height="1.5" fill="#eccbd2"/>
<rect x="255.9" y="1418.1" width="78.7" height="1.7" fill="#ecbdc8"/>
<rect x="255.9" y="1419.4" width="78.7" height="2.5" fill="#fddde4"/>
<rect x="255.9" y="1421.5" width="78.7" height="2.1" fill="#f2d2d9"/>
<rect x="255.9" y="1423.2" width="78.7" height="2.5" fill="#f4d9d5"/>
<rect x="255.9" y="1425.3" width="78.7" height="1.7" fill="#ff9bb1"/>
<rect x="255.9" y="1426.6" width="78.7" height="2.4" fill="#f2dde1"/>
<rect x="255.9" y="1428.6" width="78.7" height="2.4" fill="#ebb7c3"/>
<rect x="255.9" y="1430.6" width="78.7" height="1.8" fill="#e7afbb"/>
<rect x="255.9" y="1432.1" width="78.7" height="2" fill="#f4d7df"/>
<rect x="255.9" y="1433.6" width="78.7" height="1.9" fill="#f4d6dd"/>
<rect x="255.9" y="1435.2" width="78.7" height="1.9" fill="#e9b4c0"/>
<rect x="255.9" y="1436.7" width="78.7" height="2" fill="#eab3bf"/>
<rect x="255.9" y="1438.3" width="78.7" height="2.4" fill="#f4dfe4"/>
<rect x="255.9" y="1440.4" width="78.7" height="1.8" fill="#e9abb9"/>
<rect x="255.9" y="1441.8" width="78.7" height="2.2" fill="#f8d1da"/>
<rect x="255.9" y="1443.6" width="78.7" height="1.8" fill="#e2e2e2"/>
<rect x="255.9" y="1445" width="78.7" height="2" fill="#eca5b5"/>
<rect x="255.9" y="1446.6" width="78.7" height="1.8" fill="#fbfbfb"/>
<rect x="255.9" y="1448" width="78.7" height="2.5" fill="#dbbcc3"/>
<rect x="255.9" y="1450.1" width="78.7" height="1.6" fill="#e9bac5"/>
<rect x="255.9" y="1451.3" width="78.7" height="1.8" fill="#efcbc9"/>
<rect x="255.9" y="1452.7" width="78.7" height="2.2" fill="#f0e5e7"/>
<rect x="255.9" y="1454.5" width="78.7" height="1.6" fill="#ffa1b6"/>
<rect x="255.9" y="1455.7" width="78.7" height="1.8" fill="#f7ccd6"/>
<rect x="255.9" y="1457.1" width="78.7" height="2.2" fill="#dac9cd"/>
<rect x="255.9" y="1458.9" width="78.7" height="2.1" fill="#fad4dd"/>
<rect x="255.9" y="1460.6" width="78.7" height="1.7" fill="#d5bbc1"/>
<rect x="255.9" y="1461.9" width="78.7" height="2.4" fill="#facfd8"/>
<rect x="255.9" y="1463.9" width="78.7" height="1.9" fill="#f59eb2"/>
<rect x="255.9" y="1465.4" width="78.7" height="1.6" fill="#f6dde2"/>
<rect x="255.9" y="1466.6" width="78.7" height="2.4" fill="#dbabb5"/>
<rect x="255.9" y="1468.6" width="78.7" height="2" fill="#f9cdd7"/>
<rect x="255.9" y="1470.1" width="78.7" height="2.2" fill="#dad3d5"/>
<rect x="255.9" y="1472" width="78.7" height="1.9" fill="#f7e5e9"/>
<rect x="255.9" y="1473.4" width="78.7" height="2.1" fill="#ecc8d0"/>
<rect x="255.9" y="1475.2" width="78.7" height="1.6" fill="#f8b2c2"/>
<rect x="255.9" y="1476.4" width="78.7" height="2.2" fill="#e9c9c6"/>
<rect x="255.9" y="1478.2" width="78.7" height="1.6" fill="#f3d2db"/>
<rect x="255.9" y="1479.4" width="78.7" height="1.6" fill="#eb8098"/>
<rect x="255.9" y="1480.7" width="78.7" height="2.4" fill="#fcc6d2"/>
<rect x="255.9" y="1482.6" width="78.7" height="2.3" fill="#fbe2e8"/>
<rect x="255.9" y="1484.6" width="78.7" height="2.3" fill="#f4beca"/>
<rect x="255.9" y="1486.4" width="78.7" height="2.1" fill="#f7b9c7"/>
<rect x="255.9" y="1488.1" width="78.7" height="2.4" fill="#f7ddd9"/>
<rect x="255.9" y="1490.1" width="78.7" height="2.4" fill="#d5d4d8"/>
<rect x="255.9" y="1492.1" width="78.7" height="1.7" fill="#fbe9ed"/>
<rect x="255.9" y="1493.4" width="78.7" height="1.8" fill="#fcfcfd"/>
<rect x="255.9" y="1494.8" width="78.7" height="2" fill="#f6d1da"/>
<rect x="255.9" y="1496.5" width="78.7" height="2.3" fill="#f9d7de"/>
<rect x="255.9" y="1498.4" width="78.7" height="2.3" fill="#e1c0c7"/>
<rect x="255.9" y="1500.3" width="78.7" height="1.7" fill="#fcccd6"/>
<rect x="255.9" y="1501.6" width="78.7" height="2.2" fill="#e3e1eb"/>
<rect x="255.9" y="1503.4" width="78.7" height="2.3" fill="#ece1d9"/>
<rect x="255.9" y="1505.3" width="78.7" height="2.2" fill="#f5d4dd"/>
<rect x="255.9" y="1507.1" width="78.7" height="2.3" fill="#d6d6d6"/>
<rect x="255.9" y="1509.1" width="78.7" height="2.3" fill="#f0c4ce"/>
<rect x="255.9" y="1511" width="78.7" height="2.3" fill="#f8ced7"/>
<rect x="255.9" y="1512.9" width="78.7" height="1.6" fill="#f4dde2"/>
<rect x="255.9" y="1514.1" width="78.7" height="1.9" fill="#ecebeb"/>
<rect x="255.9" y="1515.6" width="78.7" height="1.8" fill="#fcbcca"/>
<rect x="255.9" y="1517" width="78.7" height="1.9" fill="#f2cdd5"/>
<rect x="255.9" y="1518.5" width="78.7" height="2.2" fill="#f1dadf"/>
<rect x="255.9" y="1520.2" width="78.7" height="2.3" fill="#fcd4dd"/>
<rect x="255.9" y="1522.1" width="78.7" height="2" fill="#f2a4b6"/>
<rect x="255.9" y="1523.7" width="78.7" height="1.9" fill="#f2b9c6"/>
<rect x="255.9" y="1525.1" width="78.7" height="2" fill="#f3c4ce"/>
<rect x="255.9" y="1526.8" width="78.7" height="2" fill="#e9dddf"/>
<rect x="255.9" y="1528.4" width="78.7" height="1.8" fill="#fce6eb"/>
<rect x="255.9" y="1529.7" width="78.7" height="2.1" fill="#ecd1d7"/>
<rect x="255.9" y="1531.4" width="78.7" height="2.1" fill="#f8e0db"/>
<rect x="255.9" y="1533.1" width="78.7" height="2" fill="#f4d2da"/>
<rect x="255.9" y="1534.7" width="78.7" height="1.9" fill="#edd7dc"/>
<rect x="255.9" y="1536.2" width="78.7" height="1.7" fill="#faacbe"/>
<rect x="255.9" y="1537.6" width="78.7" height="2.1" fill="#dcc2c8"/>
<rect x="255.9" y="1539.3" width="78.7" height="2.1" fill="#f49fb2"/>
<rect x="255.9" y="1540.9" width="78.7" height="2.4" fill="#f6c6d1"/>
<rect x="255.9" y="1542.9" width="78.7" height="2.2" fill="#f5eff0"/>
<rect x="255.9" y="1544.7" width="78.7" height="2.4" fill="#f8ecf1"/>
<rect x="255.9" y="1546.7" width="78.7" height="2" fill="#d9bbc1"/>
<rect x="255.9" y="1548.3" width="78.7" height="1.8" fill="#f6f2f2"/>
<rect x="255.9" y="1549.7" width="78.7" height="1.9" fill="#e3dadc"/>
<rect x="255.9" y="1551.2" width="78.7" height="2.4" fill="#ea95a8"/>
<rect x="255.9" y="1553.2" width="78.7" height="1.9" fill="#f3b9c6"/>
<rect x="255.9" y="1554.6" width="78.7" height="2.1" fill="#f9c2cf"/>
<rect x="255.9" y="1556.3" width="78.7" height="2.1" fill="#f6cad4"/>
<rect x="255.9" y="1558.1" width="78.7" height="2.4" fill="#fddbe3"/>
<rect x="255.9" y="1560.1" width="78.7" height="1.8" fill="#eacfd5"/>
<rect x="255.9" y="1561.5" width="78.7" height="1.9" fill="#ead4d9"/>
<rect x="255.9" y="1563" width="78.7" height="1.6" fill="#f1e1e4"/>
<rect x="255.9" y="1564.2" width="78.7" height="1.5" fill="#e8c0c9"/>
<rect x="255.9" y="1565.4" width="78.7" height="1.9" fill="#f2d6dc"/>
<rect x="255.9" y="1566.8" width="78.7" height="1.7" fill="#f8e9ec"/>
<rect x="255.9" y="1568.1" width="78.7" height="1.7" fill="#f1bdc9"/>
<rect x="255.9" y="1569.4" width="78.7" height="1.7" fill="#f5c1cc"/>
<rect x="255.9" y="1570.8" width="78.7" height="1.9" fill="#fac1ce"/>
<rect x="255.9" y="1572.3" width="78.7" height="1.6" fill="#fcf4f5"/>
<rect x="255.9" y="1573.5" width="78.7" height="2.4" fill="#fabac8"/>
<rect x="255.9" y="1575.5" width="78.7" height="2.3" fill="#f3c7d1"/>
<rect x="255.9" y="1577.4" width="78.7" height="2.4" fill="#f6d0ce"/>
<rect x="255.9" y="1579.4" width="78.7" height="2" fill="#f3dfe4"/>
<rect x="255.9" y="1581" width="78.7" height="2.2" fill="#d8bfc5"/>
<rect x="255.9" y="1582.9" width="78.7" height="1.9" fill="#eae9ec"/>
<rect x="255.9" y="1584.4" width="78.7" height="1.1" fill="#dfa0ae"/>
</g></g>
<rect x="177" y="795" width="157.9" height="371.6" rx="1" fill="none" stroke="#000" stroke-width="5.4"/>
<path d="M255.9 792.3 V1169.3" stroke="#000" stroke-width="2.8"/>
<rect x="177" y="1220.5" width="157.9" height="364.9" rx="1" fill="none" stroke="#000" stroke-width="5.4"/>
<path d="M255.9 1217.8 V1588.1" stroke="#000" stroke-width="2.8"/>
<text x="231.5" y="790.5" font-size="32.3" font-weight="bold" transform="rotate(-57.5 231.5 790.5)">UT</text>
<text x="293.2" y="797.5" font-size="32.3" font-weight="bold" transform="rotate(-57.5 293.2 797.5)">MMV1580488</text>
<text x="158.5" y="1131.1" font-size="28.35" font-weight="bold" transform="rotate(-90 158.5 1131.1)">Decreased abundance</text>
<text x="157.8" y="1548.3" font-size="28.45" font-weight="bold" transform="rotate(-90 157.8 1548.3)">Increased abundance</text>
<text x="264.8" y="1199.8" font-size="28.46" font-weight="bold">N=762</text>
<text x="262.3" y="1622.4" font-size="28.64" font-weight="bold">N=745</text>
<defs><linearGradient id="cb" x1="0" y1="0" x2="0" y2="1"><stop offset="0" stop-color="#c4101a"/><stop offset="0.1" stop-color="#dd3a3c"/><stop offset="0.5" stop-color="#ffffff"/><stop offset="0.9" stop-color="#3a3ab4"/><stop offset="1" stop-color="#101088"/></linearGradient></defs>
<rect x="31.2" y="1126.9" width="14.5" height="125.8" fill="url(#cb)"/>
<text transform="translate(82.6 1150.2) scale(1.16 1)" x="0" y="0" font-size="25.4" text-anchor="end">3</text>
<text transform="translate(82.6 1201.4) scale(1.16 1)" x="0" y="0" font-size="25.4" text-anchor="end">0</text>
<text transform="translate(82.6 1252.5) scale(1.16 1)" x="0" y="0" font-size="25.4" text-anchor="end">-3</text>
<text x="26.1" y="1274" font-size="28.6" transform="rotate(-90 26.1 1274)">log<tspan font-size="18" dy="6.5">2</tspan><tspan dy="-6.5">(Cy5/Cy3)</tspan></text>
<path d="M337.6 794.9 H1685.6 V1246.8 H424.4 L385.3 1165.2 H337.6" fill="none" stroke="#4f81bd" stroke-width="7.4" stroke-linejoin="miter"/>
<path d="M337.6 1222.7 H385.3 L424.4 1290.7 H1686.8 V1583.3 H337.6" fill="none" stroke="#c0504d" stroke-width="8" stroke-linejoin="miter"/>
<rect x="427.7" y="804.5" width="1244.6" height="434" fill="#fff" stroke="#4f81bd" stroke-width="3"/>
<rect x="426.2" y="803" width="1247.6" height="61.2" fill="#4f81bd"/>
<path d="M426.2 957 H1673.8" stroke="#4f81bd" stroke-width="2.8"/>
<path d="M426.2 1017 H1673.8" stroke="#4f81bd" stroke-width="2.8"/>
<path d="M426.2 1076.2 H1673.8" stroke="#4f81bd" stroke-width="2.8"/>
<text x="453.9" y="844.4" font-size="28.4" font-weight="bold" fill="#fff">GO ID</text>
<text x="678.3" y="844.4" font-size="28.4" font-weight="bold" fill="#fff"><tspan font-style="italic">P</tspan> value</text>
<text x="870.5" y="844.4" font-size="28.4" font-weight="bold" fill="#fff">Biol Process</text>
<text x="1128.7" y="844.4" font-size="28.4" font-weight="bold" fill="#fff">Genes</text>
<text x="453.9" y="904.9" font-size="28.4" font-weight="bold">0098609</text>
<text x="453.9" y="939.1" font-size="28.4" font-weight="bold">0007155</text>
<text x="677.3" y="904.9" font-size="28.4" font-weight="bold">3.36e-6</text>
<text x="677.3" y="939.1" font-size="28.4" font-weight="bold">4.42e-5</text>
<text x="870.5" y="904.9" font-size="28.4" font-weight="bold">Cell adhesion</text>
<text x="1129.7" y="904.9" font-size="28.68" font-weight="bold" font-style="italic">ETRAMP, EBA, FIKK, phist, EPF1,3,4,</text>
<text x="1129.7" y="939.1" font-size="28.68" font-weight="bold" font-style="italic">pf332, hyp</text>
<text x="453.9" y="998.5" font-size="28.4" font-weight="bold">0009405</text>
<text x="677.3" y="998.5" font-size="28.4" font-weight="bold">8.32e-6</text>
<text x="870.5" y="998.5" font-size="28.4" font-weight="bold">Pathogenesis</text>
<text x="1129.7" y="998.5" font-size="28.68" font-weight="bold" font-style="italic">25 rif, 26 var, clag9,</text>
<text x="453.9" y="1057.9" font-size="28.4" font-weight="bold">0006885</text>
<text x="677.3" y="1057.9" font-size="28.4" font-weight="bold">1.54e-4</text>
<text x="870.5" y="1057.9" font-size="28.4" font-weight="bold">pH regulation</text>
<text x="1129.7" y="1057.9" font-size="28.68" font-weight="bold" font-style="italic">vp1&amp;2, vap, (c/AC39)</text>
<text x="453.9" y="1117.5" font-size="28.4" font-weight="bold">0006360</text>
<text x="677.3" y="1117.5" font-size="28.4" font-weight="bold">2.75e-3</text>
<text x="870.5" y="1117.5" font-size="28.4" font-weight="bold">DNA</text>
<text x="870.5" y="1151.8" font-size="28.4" font-weight="bold">/transcription</text>
<text x="870.5" y="1186" font-size="28.4" font-weight="bold">/chromatin</text>
<text x="453.9" y="1220.2" font-size="28.4" font-weight="bold">0032200</text>
<text x="677.3" y="1220.2" font-size="28.4" font-weight="bold">9.85e-3</text>
<text x="1129.7" y="1117.5" font-size="28.68" font-weight="bold" font-style="italic">ApiAP2 (1342900, 1239200), ApiAP2-</text>
<text x="1129.7" y="1151.8" font-size="28.68" font-weight="bold" font-style="italic">O3 (1429200), APC10 &amp; 11, HP1,</text>
<text x="1129.7" y="1186" font-size="28.68" font-weight="bold" font-style="italic">MCM5, SET7,9,10, histone H3,</text>
<text x="1129.7" y="1220.2" font-size="28.68" font-weight="bold" font-style="italic">RPA&amp;B, Req1, dbp1 &amp; 9</text>
<rect x="427.7" y="1301.4" width="1243.8" height="273.3" fill="#fff" stroke="#c0504d" stroke-width="3"/>
<rect x="426.2" y="1299.9" width="1246.8" height="62.7" fill="#c0504d"/>
<path d="M426.2 1420.3 H1673" stroke="#c0504d" stroke-width="2.8"/>
<path d="M426.2 1515 H1673" stroke="#c0504d" stroke-width="2.8"/>
<text x="453.9" y="1341.8" font-size="28.4" font-weight="bold" fill="#fff">GO ID</text>
<text x="681.6" y="1341.8" font-size="28.4" font-weight="bold" fill="#fff"><tspan font-style="italic">P</tspan> value</text>
<text x="860.4" y="1341.8" font-size="28.4" font-weight="bold" fill="#fff">Biol Process</text>
<text x="1174.6" y="1341.8" font-size="28.4" font-weight="bold" fill="#fff">Genes</text>
<text x="453.9" y="1401.4" font-size="28.4" font-weight="bold">0046395</text>
<text x="680.6" y="1401.4" font-size="28.4" font-weight="bold">1.85e-2</text>
<text x="860.4" y="1401.4" font-size="28.4" font-weight="bold">Catabolic process</text>
<text x="1175.6" y="1401.4" font-size="28.68" font-weight="bold" font-style="italic">lsd, cpsSII</text>
<text x="453.9" y="1461" font-size="28.4" font-weight="bold">0006468</text>
<text x="453.9" y="1495.2" font-size="28.4" font-weight="bold">0007165</text>
<text x="680.6" y="1461" font-size="28.4" font-weight="bold">1.65e-2</text>
<text x="680.6" y="1495.2" font-size="28.4" font-weight="bold">2.85e-2</text>
<text x="860.4" y="1461" font-size="28.4" font-weight="bold">Signaling</text>
<text x="1175.6" y="1461" font-size="28.68" font-weight="bold" font-style="italic">eIK2, cdpk2 &amp; 5</text>
<text x="453.9" y="1555.2" font-size="28.4" font-weight="bold">0040011</text>
<text x="680.6" y="1555.2" font-size="28.4" font-weight="bold">3.61e-2</text>
<text x="860.4" y="1555.2" font-size="28.4" font-weight="bold">Cell motility</text>
<text x="1175.6" y="1555.2" font-size="28.68" font-weight="bold" font-style="italic">TLP, PP5</text>
</g>
</svg>
</body>
</html>
